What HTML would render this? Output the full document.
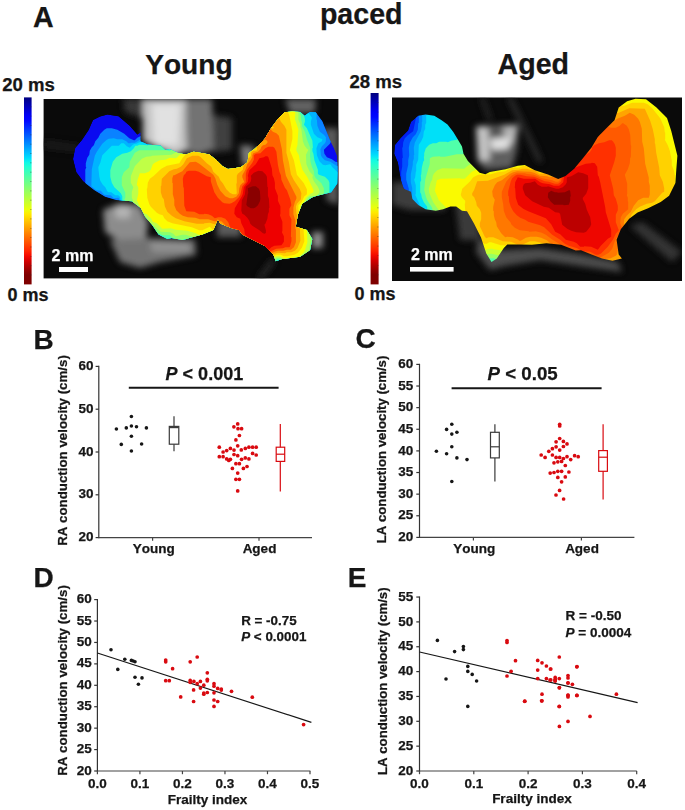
<!DOCTYPE html>
<html><head><meta charset="utf-8"><title>Figure</title>
<style>html,body{margin:0;padding:0;background:#fff;width:685px;height:810px;overflow:hidden}svg{display:block}text{stroke:currentColor;stroke-width:0.25px;font-kerning:none}</style>
</head><body>
<svg width="685" height="810" viewBox="0 0 685 810" font-family="'Liberation Sans', sans-serif" font-weight="bold">
<rect width="685" height="810" fill="#fff"/>
<text x="33" y="26.8" font-size="28.6" text-anchor="start" fill="#161616" color="#161616" >A</text>
<text x="319.9" y="23.6" font-size="28.6" text-anchor="start" fill="#161616" color="#161616" >paced</text>
<text x="145.2" y="74.4" font-size="28.1" text-anchor="start" fill="#161616" color="#161616" >Young</text>
<text x="497.6" y="74.4" font-size="28.6" text-anchor="start" fill="#161616" color="#161616" >Aged</text>
<text x="2.2" y="91" font-size="18.6" text-anchor="start" fill="#161616" color="#161616" >20 ms</text>
<text x="7.6" y="301.4" font-size="18" text-anchor="start" fill="#161616" color="#161616" >0 ms</text>
<text x="349.4" y="88" font-size="18.6" text-anchor="start" fill="#161616" color="#161616" >28 ms</text>
<text x="354.6" y="300.4" font-size="18" text-anchor="start" fill="#161616" color="#161616" >0 ms</text>
<linearGradient id="cb1" x1="0" y1="0" x2="0" y2="1"><stop offset="0.000" stop-color="#00007f"/><stop offset="0.025" stop-color="#00009e"/><stop offset="0.050" stop-color="#0000bc"/><stop offset="0.075" stop-color="#0000db"/><stop offset="0.100" stop-color="#0000fa"/><stop offset="0.125" stop-color="#0007ff"/><stop offset="0.150" stop-color="#0022ff"/><stop offset="0.175" stop-color="#003dff"/><stop offset="0.200" stop-color="#0058ff"/><stop offset="0.225" stop-color="#0073ff"/><stop offset="0.250" stop-color="#008eff"/><stop offset="0.275" stop-color="#00a9ff"/><stop offset="0.300" stop-color="#00c4ff"/><stop offset="0.325" stop-color="#00dffb"/><stop offset="0.350" stop-color="#11fae5"/><stop offset="0.375" stop-color="#27ffcf"/><stop offset="0.400" stop-color="#3cffb9"/><stop offset="0.425" stop-color="#52ffa4"/><stop offset="0.450" stop-color="#68ff8e"/><stop offset="0.475" stop-color="#7eff78"/><stop offset="0.500" stop-color="#94ff62"/><stop offset="0.525" stop-color="#a9ff4c"/><stop offset="0.550" stop-color="#bfff37"/><stop offset="0.575" stop-color="#d5ff21"/><stop offset="0.600" stop-color="#ebff0b"/><stop offset="0.625" stop-color="#ffe900"/><stop offset="0.650" stop-color="#ffd000"/><stop offset="0.675" stop-color="#ffb700"/><stop offset="0.700" stop-color="#ff9e00"/><stop offset="0.725" stop-color="#ff8500"/><stop offset="0.750" stop-color="#ff6c00"/><stop offset="0.775" stop-color="#ff5300"/><stop offset="0.800" stop-color="#ff3a00"/><stop offset="0.825" stop-color="#ff2100"/><stop offset="0.850" stop-color="#f20800"/><stop offset="0.875" stop-color="#d30000"/><stop offset="0.900" stop-color="#b40000"/><stop offset="0.925" stop-color="#960000"/><stop offset="0.950" stop-color="#7f0000"/><stop offset="0.975" stop-color="#7f0000"/><stop offset="1.000" stop-color="#7f0000"/></linearGradient><rect x="24" y="97.4" width="7.6" height="186.99999999999997" fill="url(#cb1)"/><line x1="30.0" y1="106.8" x2="31.6" y2="106.8" stroke="#333" stroke-width="0.6" opacity="0.6"/><line x1="30.0" y1="116.1" x2="31.6" y2="116.1" stroke="#333" stroke-width="0.6" opacity="0.6"/><line x1="30.0" y1="125.5" x2="31.6" y2="125.5" stroke="#333" stroke-width="0.6" opacity="0.6"/><line x1="30.0" y1="134.8" x2="31.6" y2="134.8" stroke="#333" stroke-width="0.6" opacity="0.6"/><line x1="30.0" y1="144.2" x2="31.6" y2="144.2" stroke="#333" stroke-width="0.6" opacity="0.6"/><line x1="30.0" y1="153.5" x2="31.6" y2="153.5" stroke="#333" stroke-width="0.6" opacity="0.6"/><line x1="30.0" y1="162.8" x2="31.6" y2="162.8" stroke="#333" stroke-width="0.6" opacity="0.6"/><line x1="30.0" y1="172.2" x2="31.6" y2="172.2" stroke="#333" stroke-width="0.6" opacity="0.6"/><line x1="30.0" y1="181.6" x2="31.6" y2="181.6" stroke="#333" stroke-width="0.6" opacity="0.6"/><line x1="30.0" y1="190.9" x2="31.6" y2="190.9" stroke="#333" stroke-width="0.6" opacity="0.6"/><line x1="30.0" y1="200.2" x2="31.6" y2="200.2" stroke="#333" stroke-width="0.6" opacity="0.6"/><line x1="30.0" y1="209.6" x2="31.6" y2="209.6" stroke="#333" stroke-width="0.6" opacity="0.6"/><line x1="30.0" y1="218.9" x2="31.6" y2="218.9" stroke="#333" stroke-width="0.6" opacity="0.6"/><line x1="30.0" y1="228.3" x2="31.6" y2="228.3" stroke="#333" stroke-width="0.6" opacity="0.6"/><line x1="30.0" y1="237.6" x2="31.6" y2="237.6" stroke="#333" stroke-width="0.6" opacity="0.6"/><line x1="30.0" y1="247.0" x2="31.6" y2="247.0" stroke="#333" stroke-width="0.6" opacity="0.6"/><line x1="30.0" y1="256.4" x2="31.6" y2="256.4" stroke="#333" stroke-width="0.6" opacity="0.6"/><line x1="30.0" y1="265.7" x2="31.6" y2="265.7" stroke="#333" stroke-width="0.6" opacity="0.6"/><line x1="30.0" y1="275.0" x2="31.6" y2="275.0" stroke="#333" stroke-width="0.6" opacity="0.6"/>
<linearGradient id="cb2" x1="0" y1="0" x2="0" y2="1"><stop offset="0.000" stop-color="#00007f"/><stop offset="0.025" stop-color="#00009e"/><stop offset="0.050" stop-color="#0000bc"/><stop offset="0.075" stop-color="#0000db"/><stop offset="0.100" stop-color="#0000fa"/><stop offset="0.125" stop-color="#0007ff"/><stop offset="0.150" stop-color="#0022ff"/><stop offset="0.175" stop-color="#003dff"/><stop offset="0.200" stop-color="#0058ff"/><stop offset="0.225" stop-color="#0073ff"/><stop offset="0.250" stop-color="#008eff"/><stop offset="0.275" stop-color="#00a9ff"/><stop offset="0.300" stop-color="#00c4ff"/><stop offset="0.325" stop-color="#00dffb"/><stop offset="0.350" stop-color="#11fae5"/><stop offset="0.375" stop-color="#27ffcf"/><stop offset="0.400" stop-color="#3cffb9"/><stop offset="0.425" stop-color="#52ffa4"/><stop offset="0.450" stop-color="#68ff8e"/><stop offset="0.475" stop-color="#7eff78"/><stop offset="0.500" stop-color="#94ff62"/><stop offset="0.525" stop-color="#a9ff4c"/><stop offset="0.550" stop-color="#bfff37"/><stop offset="0.575" stop-color="#d5ff21"/><stop offset="0.600" stop-color="#ebff0b"/><stop offset="0.625" stop-color="#ffe900"/><stop offset="0.650" stop-color="#ffd000"/><stop offset="0.675" stop-color="#ffb700"/><stop offset="0.700" stop-color="#ff9e00"/><stop offset="0.725" stop-color="#ff8500"/><stop offset="0.750" stop-color="#ff6c00"/><stop offset="0.775" stop-color="#ff5300"/><stop offset="0.800" stop-color="#ff3a00"/><stop offset="0.825" stop-color="#ff2100"/><stop offset="0.850" stop-color="#f20800"/><stop offset="0.875" stop-color="#d30000"/><stop offset="0.900" stop-color="#b40000"/><stop offset="0.925" stop-color="#960000"/><stop offset="0.950" stop-color="#7f0000"/><stop offset="0.975" stop-color="#7f0000"/><stop offset="1.000" stop-color="#7f0000"/></linearGradient><rect x="370.6" y="93" width="8" height="191.39999999999998" fill="url(#cb2)"/><line x1="377.0" y1="102.6" x2="378.6" y2="102.6" stroke="#333" stroke-width="0.6" opacity="0.6"/><line x1="377.0" y1="112.1" x2="378.6" y2="112.1" stroke="#333" stroke-width="0.6" opacity="0.6"/><line x1="377.0" y1="121.7" x2="378.6" y2="121.7" stroke="#333" stroke-width="0.6" opacity="0.6"/><line x1="377.0" y1="131.3" x2="378.6" y2="131.3" stroke="#333" stroke-width="0.6" opacity="0.6"/><line x1="377.0" y1="140.8" x2="378.6" y2="140.8" stroke="#333" stroke-width="0.6" opacity="0.6"/><line x1="377.0" y1="150.4" x2="378.6" y2="150.4" stroke="#333" stroke-width="0.6" opacity="0.6"/><line x1="377.0" y1="160.0" x2="378.6" y2="160.0" stroke="#333" stroke-width="0.6" opacity="0.6"/><line x1="377.0" y1="169.6" x2="378.6" y2="169.6" stroke="#333" stroke-width="0.6" opacity="0.6"/><line x1="377.0" y1="179.1" x2="378.6" y2="179.1" stroke="#333" stroke-width="0.6" opacity="0.6"/><line x1="377.0" y1="188.7" x2="378.6" y2="188.7" stroke="#333" stroke-width="0.6" opacity="0.6"/><line x1="377.0" y1="198.3" x2="378.6" y2="198.3" stroke="#333" stroke-width="0.6" opacity="0.6"/><line x1="377.0" y1="207.8" x2="378.6" y2="207.8" stroke="#333" stroke-width="0.6" opacity="0.6"/><line x1="377.0" y1="217.4" x2="378.6" y2="217.4" stroke="#333" stroke-width="0.6" opacity="0.6"/><line x1="377.0" y1="227.0" x2="378.6" y2="227.0" stroke="#333" stroke-width="0.6" opacity="0.6"/><line x1="377.0" y1="236.5" x2="378.6" y2="236.5" stroke="#333" stroke-width="0.6" opacity="0.6"/><line x1="377.0" y1="246.1" x2="378.6" y2="246.1" stroke="#333" stroke-width="0.6" opacity="0.6"/><line x1="377.0" y1="255.7" x2="378.6" y2="255.7" stroke="#333" stroke-width="0.6" opacity="0.6"/><line x1="377.0" y1="265.3" x2="378.6" y2="265.3" stroke="#333" stroke-width="0.6" opacity="0.6"/><line x1="377.0" y1="274.8" x2="378.6" y2="274.8" stroke="#333" stroke-width="0.6" opacity="0.6"/>
<rect x="43.6" y="99" width="294.79999999999995" height="179.39999999999998" fill="#0a0a0a"/>
<filter id="gy" x="-20%" y="-20%" width="140%" height="140%"><feGaussianBlur stdDeviation="3"/></filter><clipPath id="gyc"><rect x="43.6" y="99" width="294.79999999999995" height="179.39999999999998"/></clipPath><g clip-path="url(#gyc)"><g filter="url(#gy)"><path d="M143,99 186,99 187,150 175,156 160,149 143,141Z" fill="rgb(195,195,195)" opacity="1"/><path d="M152,104 180,104 178,146 154,144Z" fill="rgb(225,225,225)" opacity="1"/><path d="M186,99 212,99 214,150 198,155 187,152Z" fill="rgb(115,115,115)" opacity="1"/><path d="M212,115 232,118 232,150 214,152Z" fill="rgb(65,65,65)" opacity="1"/><path d="M123,99 143,99 143,118 125,112Z" fill="rgb(55,55,55)" opacity="1"/><path d="M240,145 254,146 254,166 242,166Z" fill="rgb(120,120,120)" opacity="1"/><path d="M103,210 120,203 140,205 148,222 146,240 125,245 105,232Z" fill="rgb(140,140,140)" opacity="1"/><path d="M115,207 130,206 130,218 116,218Z" fill="rgb(180,180,180)" opacity="1"/><path d="M110,240 150,238 195,240 196,255 160,262 140,268 120,262Z" fill="rgb(115,115,115)" opacity="1"/><path d="M150,242 190,243 190,252 152,252Z" fill="rgb(145,145,145)" opacity="1"/><path d="M217,219 241,222 241,237 217,237Z" fill="rgb(90,90,90)" opacity="1"/><path d="M285,99 316,99 315,113 290,113Z" fill="rgb(100,100,100)" opacity="1"/><path d="M322,128 338.4,128 338.4,205 326,200 330,160Z" fill="rgb(90,90,90)" opacity="1"/><path d="M312,232 323,232 323,248 312,248Z" fill="rgb(140,140,140)" opacity="1"/><path d="M257,279 262,279 276,260 271,260Z" fill="rgb(50,50,50)" opacity="1"/><path d="M43.6,140 80,145 78,152 43.6,148Z" fill="rgb(35,35,35)" opacity="0.8"/></g></g>
<clipPath id="clipY"><path d="M93.0,120.1 100.0,116.5 107.4,114.6 118.6,116.3 129.7,125.7 137.4,134.6 140.8,132.3 140.3,141.2 147.4,144.6 160.8,145.7 165.2,150.1 170.0,149.2 177.9,153.1 185.8,154.5 193.7,151.8 201.5,153.1 209.4,154.5 216.0,159.7 222.6,166.3 227.8,168.9 234.4,168.3 241.0,166.9 247.5,162.3 248.8,153.1 254.1,149.2 260.0,144.0 264.6,139.0 271.2,127.9 277.9,119.0 284.6,112.3 292.0,111.5 300.1,111.9 304.6,115.7 310.0,112.0 315.7,112.3 322.3,121.2 326.8,132.3 330.0,140.0 334.0,148.0 337.2,156.0 337.6,170.0 337.2,183.4 331.2,192.3 320.0,195.0 313.4,196.8 302.3,203.4 297.9,214.6 295.7,226.8 306.8,230.1 312.3,239.0 310.1,250.1 300.1,256.8 282.3,259.0 275.7,261.2 273.4,254.6 264.6,245.7 251.2,239.0 242.3,234.6 239.0,230.1 231.2,227.9 220.1,223.4 217.9,219.0 213.4,230.1 202.3,234.6 189.4,238.1 183.0,240.1 171.4,238.1 167.4,239.0 158.6,234.6 151.9,224.6 145.2,216.8 140.8,207.9 131.9,201.2 116.3,200.1 105.2,196.8 94.1,190.1 83.0,181.2 76.3,172.3 73.0,159.0 75.2,147.9 81.9,140.1 88.6,130.1Z"/></clipPath>
<g clip-path="url(#clipY)">
<path d="M93.0,120.1 100.0,116.5 107.4,114.6 118.6,116.3 129.7,125.7 137.4,134.6 140.8,132.3 140.3,141.2 147.4,144.6 160.8,145.7 165.2,150.1 170.0,149.2 177.9,153.1 185.8,154.5 193.7,151.8 201.5,153.1 209.4,154.5 216.0,159.7 222.6,166.3 227.8,168.9 234.4,168.3 241.0,166.9 247.5,162.3 248.8,153.1 254.1,149.2 260.0,144.0 264.6,139.0 271.2,127.9 277.9,119.0 284.6,112.3 292.0,111.5 300.1,111.9 304.6,115.7 310.0,112.0 315.7,112.3 322.3,121.2 326.8,132.3 330.0,140.0 334.0,148.0 337.2,156.0 337.6,170.0 337.2,183.4 331.2,192.3 320.0,195.0 313.4,196.8 302.3,203.4 297.9,214.6 295.7,226.8 306.8,230.1 312.3,239.0 310.1,250.1 300.1,256.8 282.3,259.0 275.7,261.2 273.4,254.6 264.6,245.7 251.2,239.0 242.3,234.6 239.0,230.1 231.2,227.9 220.1,223.4 217.9,219.0 213.4,230.1 202.3,234.6 189.4,238.1 183.0,240.1 171.4,238.1 167.4,239.0 158.6,234.6 151.9,224.6 145.2,216.8 140.8,207.9 131.9,201.2 116.3,200.1 105.2,196.8 94.1,190.1 83.0,181.2 76.3,172.3 73.0,159.0 75.2,147.9 81.9,140.1 88.6,130.1Z" fill="#0a0af0"/>
<path d="M338.4,162.2 335.4,161.8 331.9,159.2 326.9,157.2 324.4,153.8 323.9,149.8 329.9,143.8 331.4,140.8 331.4,138.2 323.4,118.8 317.4,110.8 308.4,110.8 305.9,112.8 304.9,112.8 301.9,110.2 287.4,110.2 286.9,110.8 283.4,110.8 275.4,118.8 269.4,126.8 263.9,137.2 255.8,145.2 247.3,151.8 246.3,158.8 245.3,161.2 239.3,165.2 229.3,167.2 224.3,164.8 216.3,157.2 209.3,152.8 204.3,152.2 196.3,150.2 191.8,150.2 186.3,152.8 180.8,152.2 171.8,147.8 167.3,147.8 166.3,148.2 162.3,144.2 148.8,143.2 141.8,139.2 142.3,135.2 137.3,137.8 134.8,140.2 133.8,140.2 129.3,138.2 124.3,133.8 117.3,129.8 111.8,128.2 106.8,128.2 104.3,129.8 100.3,133.8 98.3,137.8 95.3,141.2 93.8,145.2 91.8,147.2 89.8,150.8 89.3,154.8 87.3,157.8 85.8,163.2 85.8,166.8 86.3,167.2 85.3,169.8 85.3,186.2 92.8,192.2 97.3,193.8 99.3,193.8 102.8,197.8 104.8,198.8 108.8,199.2 109.8,200.2 114.3,201.8 126.3,202.2 131.3,203.2 139.3,209.2 143.3,217.8 149.3,224.8 156.8,235.8 165.8,240.8 173.8,240.2 180.3,241.8 184.8,241.8 191.8,239.2 202.8,236.8 214.8,231.8 216.8,226.2 218.3,224.2 229.3,229.2 237.3,231.8 240.8,236.2 263.4,247.2 271.9,256.2 274.4,262.8 277.9,262.8 285.9,260.2 301.9,258.2 311.9,251.8 313.9,241.8 313.9,237.8 308.4,228.8 297.9,225.2 299.4,215.8 304.4,204.2 314.9,198.2 331.9,194.2 333.4,193.2 338.4,185.8Z" fill="#0a82ff" fill-rule="evenodd"/>
<path d="M338.4,166.2 336.4,165.8 330.4,161.8 324.9,160.2 321.9,157.2 320.9,155.2 320.4,149.2 321.9,146.2 324.9,143.2 325.9,141.2 325.9,137.2 323.9,134.8 319.9,131.8 317.4,125.8 316.9,119.8 316.4,119.2 316.9,111.2 317.4,110.8 308.4,110.8 305.9,112.8 304.9,112.8 301.9,110.2 287.4,110.2 286.9,110.8 283.4,110.8 275.4,118.8 269.4,126.8 263.9,137.2 255.8,145.2 247.3,151.8 245.8,160.8 240.3,164.8 233.8,166.8 229.8,166.8 229.3,167.2 224.3,164.8 216.3,157.2 209.3,152.8 204.3,152.2 196.3,150.2 191.8,150.2 186.3,152.8 180.8,152.2 171.8,147.8 167.3,147.8 166.3,148.2 162.3,144.2 148.8,143.2 142.8,140.2 141.8,138.8 134.8,142.8 130.8,142.8 130.3,143.2 128.3,143.2 126.3,141.2 122.3,139.2 117.3,139.2 113.8,138.2 108.8,138.8 106.8,139.8 102.3,143.8 96.8,151.8 94.8,155.8 91.8,169.2 91.3,186.2 96.3,190.2 100.8,190.8 104.3,194.8 110.8,195.2 113.8,198.2 118.3,197.8 119.3,198.8 119.3,200.2 118.3,201.8 118.8,202.2 130.3,202.8 139.3,209.2 143.3,217.8 149.3,224.8 156.8,235.8 165.8,240.8 173.8,240.2 180.3,241.8 184.8,241.8 191.8,239.2 202.8,236.8 214.8,231.8 216.8,226.2 218.3,224.2 229.3,229.2 237.3,231.8 240.8,236.2 263.4,247.2 271.9,256.2 274.4,262.8 277.9,262.8 285.9,260.2 301.9,258.2 311.9,251.8 313.9,241.8 313.9,237.8 308.4,228.8 297.9,225.2 299.4,215.8 304.4,204.2 314.9,198.2 331.9,194.2 333.4,193.2 338.4,185.8Z" fill="#00b4ff" fill-rule="evenodd"/>
<path d="M338.4,172.8 331.9,166.8 330.9,164.8 329.9,164.2 325.4,165.2 322.9,164.8 319.4,161.2 316.9,155.2 316.4,148.2 318.4,143.2 321.9,141.2 322.4,139.2 317.4,137.2 313.9,133.8 310.9,124.8 310.9,121.2 311.9,117.8 308.9,113.2 308.9,110.8 307.4,111.2 305.9,112.8 304.9,112.8 301.9,110.2 283.4,110.8 275.4,118.8 269.4,126.8 263.9,137.2 255.8,145.2 247.3,151.8 245.8,160.8 240.3,164.8 233.8,166.8 229.8,166.8 229.3,167.2 224.3,164.8 216.3,157.2 209.3,152.8 204.3,152.2 196.3,150.2 191.8,150.2 186.3,152.8 180.8,152.2 171.8,147.8 167.3,147.8 166.3,148.2 162.3,144.2 148.8,143.2 145.3,141.2 139.3,142.2 136.3,143.8 134.8,143.8 132.8,144.8 129.8,147.8 126.8,146.2 123.8,143.2 121.3,143.2 118.8,145.8 111.8,145.8 102.3,155.2 100.3,162.8 98.3,167.2 99.3,176.8 100.3,180.8 102.8,184.8 105.3,187.2 107.3,191.2 108.3,192.2 111.3,192.2 115.3,195.2 118.3,195.2 120.3,197.2 120.8,202.2 130.3,202.8 138.8,208.8 143.3,217.8 149.3,224.8 157.8,236.8 165.8,240.8 173.8,240.2 180.3,241.8 184.8,241.8 191.8,239.2 202.8,236.8 214.8,231.8 216.8,226.2 218.3,224.2 229.3,229.2 237.3,231.8 240.8,236.2 263.4,247.2 271.9,256.2 274.4,262.8 277.9,262.8 285.9,260.2 301.9,258.2 311.9,251.8 313.9,241.8 313.9,237.8 308.4,228.8 297.9,225.2 299.4,215.8 304.4,204.2 314.9,198.2 331.9,194.2 333.4,193.2 338.4,185.8Z" fill="#00e0f8" fill-rule="evenodd"/>
<path d="M330.4,194.2 329.4,192.2 329.4,182.8 328.4,180.2 324.9,176.8 318.9,174.8 317.9,173.8 317.9,169.8 314.4,160.2 313.4,153.8 312.4,151.2 312.4,148.2 312.9,147.8 312.4,140.8 306.9,128.2 303.9,124.8 304.9,121.8 304.9,118.8 303.9,115.2 301.9,112.2 302.4,110.8 301.9,110.2 283.4,110.8 275.4,118.8 269.4,126.8 263.9,137.2 255.8,145.2 247.3,151.8 245.8,160.8 240.3,164.8 233.8,166.8 229.8,166.8 229.3,167.2 224.3,164.8 216.3,157.2 209.3,152.8 204.3,152.2 196.3,150.2 191.8,150.2 186.3,152.8 180.8,152.2 171.8,147.8 167.3,147.8 166.3,148.2 162.3,144.2 157.8,143.8 157.3,144.2 148.3,144.8 147.8,145.2 139.3,144.8 137.3,145.8 135.3,145.8 133.8,148.2 130.8,151.2 127.3,152.8 122.3,153.8 116.3,157.2 112.8,161.8 110.3,170.2 110.3,176.8 111.8,182.8 114.3,187.2 120.8,193.2 122.3,196.2 122.3,201.8 122.8,202.2 130.3,202.8 138.8,208.8 143.3,217.8 149.3,224.8 157.8,236.8 162.8,239.2 167.8,239.2 168.8,238.8 170.3,240.2 173.8,240.2 180.3,241.8 184.8,241.8 191.8,239.2 202.8,236.8 214.8,231.8 216.8,226.2 218.3,224.2 229.3,229.2 237.3,231.8 240.8,236.2 263.4,247.2 271.9,256.2 274.4,262.8 277.9,262.8 285.9,260.2 301.9,258.2 311.9,251.8 313.9,241.8 313.9,237.8 308.4,228.8 297.9,225.2 299.4,215.8 304.4,204.2 314.9,198.2Z" fill="#50ffaa" fill-rule="evenodd"/>
<path d="M323.9,188.2 321.4,183.2 315.9,178.2 314.4,175.8 313.9,171.2 311.9,166.8 310.4,161.2 310.4,157.8 309.9,157.2 310.4,148.2 306.9,139.2 304.9,131.8 301.9,125.8 301.9,121.8 301.4,121.2 300.9,115.8 299.9,113.2 299.9,110.2 283.4,110.8 275.4,118.8 269.4,126.8 263.9,137.2 255.8,145.2 247.3,151.8 245.8,160.8 239.3,165.2 229.3,167.2 224.3,164.8 216.3,157.2 210.8,153.2 196.3,150.2 191.8,150.2 186.3,152.8 180.8,152.2 172.8,148.2 169.8,151.2 165.8,150.2 139.3,150.2 134.8,152.8 129.8,161.8 129.3,167.2 123.8,172.2 121.8,177.2 121.8,185.2 125.3,192.8 125.3,197.8 124.3,199.8 126.8,202.8 130.3,202.8 138.8,208.8 144.8,219.8 150.8,227.2 157.8,233.2 163.3,235.2 169.8,235.2 174.3,239.2 176.3,240.2 181.8,240.2 183.8,239.2 185.3,239.2 187.3,240.8 188.3,240.8 191.8,239.2 204.3,236.2 214.8,231.8 216.8,226.2 218.3,224.2 229.3,229.2 237.3,231.8 240.8,236.2 263.4,247.2 271.9,256.2 274.4,262.8 277.4,258.8 279.4,259.2 281.4,261.8 285.9,260.2 301.9,258.2 311.9,251.8 313.9,241.8 313.9,237.8 308.4,228.8 297.9,225.2 298.9,217.8 303.9,204.8 308.9,201.8 308.9,198.8 309.9,197.8 314.4,198.8 317.4,197.8 319.4,195.8 322.4,196.2 323.9,192.8Z" fill="#8cff6e" fill-rule="evenodd"/>
<path d="M297.9,110.2 283.4,110.8 275.4,118.8 269.4,126.8 263.9,137.2 255.8,145.2 247.3,151.8 245.8,160.8 240.3,164.8 233.8,166.8 229.8,166.8 229.3,167.2 224.3,164.8 216.3,157.2 210.8,153.2 196.3,150.2 191.8,150.2 186.3,152.8 180.8,152.2 177.3,150.8 175.3,152.8 171.3,154.8 151.8,155.8 151.3,156.2 146.3,156.8 141.8,158.8 134.8,166.2 130.8,176.2 130.8,182.8 133.3,187.2 131.8,191.8 131.8,197.8 132.8,199.8 133.3,204.8 139.3,209.2 143.3,217.2 146.3,218.8 151.8,224.8 153.8,225.8 160.8,231.8 170.3,232.2 173.3,233.8 175.8,236.2 182.3,234.8 185.8,234.8 194.8,237.8 198.8,237.8 204.3,236.2 214.8,231.8 216.8,226.2 218.3,224.2 229.3,229.2 237.3,231.8 240.8,236.2 263.4,247.2 271.9,256.2 273.4,260.8 276.4,257.8 279.9,257.8 283.9,260.8 299.9,258.8 302.9,257.8 307.4,254.8 309.4,250.2 309.9,244.2 310.4,243.8 310.4,233.2 310.9,232.8 308.4,228.8 297.9,225.2 298.9,217.8 303.9,204.8 305.9,203.8 305.9,202.2 307.9,197.8 309.9,196.2 315.9,196.2 319.4,192.8 319.4,190.2 317.9,186.8 313.9,181.2 312.4,177.8 312.9,175.2 309.4,171.2 306.4,164.2 305.9,154.8 308.4,149.8 306.9,148.8 304.4,145.2 302.9,141.2 301.4,129.8 300.4,127.2 300.4,124.2 298.4,119.8 298.4,111.2Z" fill="#c0ff46" fill-rule="evenodd"/>
<path d="M295.4,111.8 293.9,110.2 283.4,110.8 275.4,118.8 269.4,126.8 263.9,137.2 255.8,145.2 247.3,151.8 245.8,160.8 239.3,165.2 229.3,167.2 224.3,164.8 216.3,157.2 210.8,153.2 196.3,150.2 191.8,150.2 186.3,152.8 182.3,152.2 176.8,157.8 175.3,158.2 169.8,157.8 165.3,159.8 159.8,160.2 154.8,162.8 152.8,164.2 150.8,169.8 148.8,171.8 144.8,173.2 139.8,173.2 137.8,179.2 136.8,184.8 138.3,187.2 138.3,193.8 136.8,200.2 142.8,212.8 146.8,214.2 151.3,218.8 152.8,221.8 156.8,223.2 162.3,228.8 170.8,228.2 175.8,229.8 187.3,230.8 195.8,233.2 200.3,235.8 204.3,236.2 214.8,231.8 216.8,226.2 218.3,224.2 229.3,229.2 237.3,231.8 240.8,236.2 263.4,247.2 271.9,256.2 272.9,258.2 276.4,256.2 279.9,256.2 284.9,258.8 293.9,258.8 298.9,256.8 303.4,252.8 304.9,250.2 307.4,242.2 306.9,228.2 297.9,225.2 299.4,215.8 301.9,210.2 300.4,206.2 303.9,202.2 305.9,197.8 310.4,193.8 313.4,192.2 313.4,189.8 307.4,177.2 302.4,169.8 299.9,161.2 298.9,155.2 296.4,150.8 296.4,148.2 297.4,145.2 298.4,129.2 294.9,119.2Z" fill="#fcfc00" fill-rule="evenodd"/>
<path d="M287.9,111.8 286.9,110.8 283.4,110.8 275.4,118.8 269.4,126.8 263.9,137.2 255.8,145.2 247.3,151.8 245.8,160.8 239.3,165.2 229.3,167.2 224.3,164.8 216.3,157.2 210.8,153.2 196.3,150.2 193.3,150.2 185.8,154.2 182.3,158.2 179.3,163.2 166.8,165.8 161.3,168.8 153.3,176.2 149.8,178.8 147.8,182.8 147.3,188.2 146.8,188.8 147.3,197.8 149.3,204.2 150.8,206.8 156.8,212.8 159.3,214.2 162.8,215.2 164.3,218.2 167.3,221.2 172.3,223.2 191.8,227.2 199.3,230.2 202.3,230.2 209.8,226.8 214.8,231.8 216.8,226.2 218.3,224.2 229.3,229.2 236.3,231.2 238.3,232.8 240.8,236.2 263.4,247.2 271.9,256.8 272.9,256.8 276.4,254.8 280.9,254.8 283.9,256.2 286.9,256.2 294.4,254.8 297.9,252.8 301.9,247.8 304.4,241.2 303.4,227.2 297.9,225.2 298.9,217.8 299.9,215.2 299.9,213.2 298.4,209.8 298.4,205.2 301.4,202.2 304.4,196.2 306.4,194.8 306.9,193.8 306.9,189.2 303.9,183.2 296.9,174.8 293.9,160.2 289.9,150.2 292.4,138.8 292.4,131.2 289.4,115.8Z" fill="#ffd200" fill-rule="evenodd"/>
<path d="M278.9,117.2 277.9,116.2 275.4,118.8 269.4,126.8 263.9,137.2 255.3,145.2 257.4,148.8 256.4,150.8 253.3,150.8 251.3,152.2 250.8,156.2 245.3,161.2 243.8,164.2 242.8,169.8 237.8,173.8 236.8,175.8 236.8,183.2 236.3,183.8 236.8,193.2 235.8,194.2 232.8,194.2 229.8,192.8 226.3,189.2 222.8,183.2 220.3,180.2 218.8,176.8 213.3,171.8 211.3,166.8 206.8,163.2 200.3,156.8 198.3,155.8 192.3,155.8 186.8,158.2 183.3,164.2 180.8,166.8 176.8,168.8 173.8,169.2 169.3,171.2 161.8,178.8 161.3,185.8 160.8,186.2 160.8,192.2 162.3,197.2 163.8,199.2 164.8,206.2 167.3,211.8 171.8,215.8 175.8,218.2 184.3,221.2 196.8,223.8 203.8,223.8 204.3,223.2 209.8,222.8 216.3,224.8 218.3,224.2 229.3,229.2 236.3,231.2 238.3,232.8 240.8,236.2 263.4,247.2 271.4,255.8 274.4,253.8 277.9,252.8 284.9,253.2 286.9,252.2 291.4,252.2 294.9,250.8 297.4,248.2 300.4,240.8 299.9,228.8 299.4,228.2 299.4,225.8 297.9,225.2 298.4,219.2 296.4,213.2 295.9,206.8 296.9,203.8 300.9,199.2 301.4,193.2 299.9,189.2 293.9,180.2 290.9,174.2 288.9,162.2 286.4,152.8 286.4,129.8 284.4,125.8 280.9,121.8ZM272.4,126.8 273.9,127.2 272.9,128.8 271.4,127.8Z" fill="#ffa000" fill-rule="evenodd"/>
<path d="M269.9,126.2 263.9,137.2 258.9,142.2 261.4,142.8 264.4,139.8 265.9,139.8 267.4,141.2 267.4,142.8 265.4,144.8 262.9,145.2 261.4,146.8 260.4,149.2 257.9,151.8 253.3,153.2 252.3,155.2 252.3,157.2 250.3,160.8 247.3,164.2 245.3,169.8 242.3,175.2 242.3,177.2 244.3,182.2 242.8,182.8 240.3,185.2 239.3,188.2 238.8,193.2 236.3,196.8 232.8,198.2 229.8,198.2 225.3,196.2 220.3,190.8 217.3,184.8 215.3,178.2 213.3,174.8 199.3,163.8 195.8,161.8 189.8,162.2 182.3,171.2 174.3,175.2 173.3,175.2 172.3,178.2 172.3,182.8 172.8,183.2 172.8,194.2 174.3,199.8 174.3,205.2 176.3,210.2 179.8,213.8 182.8,215.8 187.8,217.2 195.3,217.8 199.8,219.2 208.3,219.2 214.3,221.2 221.3,221.2 224.3,224.2 225.8,227.8 237.3,231.8 240.8,236.2 263.4,247.2 270.4,254.2 274.4,251.8 277.9,250.8 283.4,250.8 286.9,249.8 290.9,249.8 293.9,247.2 295.9,242.2 295.9,229.2 295.4,228.8 295.4,220.8 293.4,214.2 293.4,207.8 294.9,201.8 296.4,198.8 296.4,196.8 285.9,175.8 282.9,160.2 281.9,149.2 278.9,135.8 276.4,133.2 272.9,131.8 270.9,129.8 270.4,126.2Z" fill="#ff6400" fill-rule="evenodd"/>
<path d="M186.3,171.8 185.8,173.2 183.8,175.2 182.8,178.8 183.3,187.2 183.8,187.8 184.3,205.8 186.3,211.2 194.3,211.8 199.3,214.2 203.8,214.2 204.3,213.8 208.3,214.2 211.8,215.8 214.8,218.2 218.3,217.2 221.3,217.2 225.3,218.8 228.3,222.2 230.3,227.8 238.3,231.2 239.3,232.2 239.8,235.2 240.8,236.2 263.4,247.2 268.9,253.2 271.9,250.8 276.4,248.8 282.9,248.2 285.4,247.2 289.4,247.2 289.9,246.8 291.4,241.2 291.4,237.2 290.9,236.8 291.4,219.2 289.4,215.2 289.4,208.8 291.4,205.2 290.4,199.8 286.9,190.2 284.9,187.8 281.4,179.8 280.9,175.2 279.4,171.8 277.9,164.8 276.4,151.8 274.4,147.8 272.9,146.8 268.4,146.8 265.4,148.2 260.4,153.2 255.8,153.8 253.8,155.2 253.8,159.8 252.3,162.8 246.8,170.2 245.8,173.8 245.8,182.2 242.3,186.2 240.3,194.8 238.8,197.2 234.8,201.2 231.3,203.2 229.3,203.8 224.3,203.2 222.3,202.2 217.8,197.8 214.3,192.2 210.8,181.2 210.8,177.2 206.8,176.2 198.8,171.8 195.3,170.8 188.8,170.8ZM265.9,133.2 263.9,137.2 261.4,139.8 261.9,140.2 263.4,139.8Z" fill="#ff2a00" fill-rule="evenodd"/>
<path d="M265.4,156.2 263.9,157.2 259.4,158.2 255.8,164.2 249.3,170.2 247.8,175.8 248.3,177.8 247.8,181.8 243.8,187.2 242.8,193.8 241.8,196.2 234.8,208.2 234.3,213.8 236.8,217.2 240.3,218.8 241.3,223.2 244.3,229.2 244.8,234.2 251.8,241.8 263.4,247.2 266.9,250.8 267.9,250.8 271.4,247.2 274.4,245.8 281.4,245.2 283.9,241.8 283.9,236.2 281.9,232.2 282.4,230.8 282.4,221.8 279.9,215.2 280.4,213.8 280.4,206.2 277.9,200.8 277.9,195.8 274.9,188.2 274.9,182.8 273.9,178.2 272.4,175.2 271.9,168.8 268.4,157.2 267.4,156.2Z" fill="#ee0000" fill-rule="evenodd"/>
<path d="M258.4,170.8 253.8,172.8 250.8,175.8 251.3,178.2 250.8,181.2 249.3,183.8 245.8,186.8 244.8,194.8 241.8,200.2 241.3,210.8 242.3,213.8 244.3,214.8 247.3,217.8 249.3,220.8 250.3,223.8 252.3,225.8 259.4,230.2 262.9,233.2 264.9,233.8 265.9,232.8 265.9,230.2 264.4,224.8 265.4,223.8 267.4,218.8 267.9,214.2 268.9,211.8 268.9,208.2 269.4,207.8 268.9,198.8 267.9,195.8 267.9,187.2 267.4,186.8 266.9,176.8 265.9,174.8 262.4,171.2Z" fill="#b80000" fill-rule="evenodd"/>
<path d="M255.8,186.2 252.8,186.2 247.8,188.2 248.3,193.2 247.8,193.8 246.3,204.8 247.3,206.2 250.8,208.2 253.8,208.2 255.8,207.2 257.9,205.2 259.9,201.2 260.4,198.8 259.9,191.2 258.9,188.8Z" fill="#8a0000" fill-rule="evenodd"/>
</g>
<text x="51.6" y="261" font-size="16" text-anchor="start" fill="#fff" color="#fff" >2 mm</text>
<rect x="59" y="267" width="29" height="5" fill="#fff"/>
<rect x="392" y="97.5" width="290" height="183.5" fill="#0a0a0a"/>
<filter id="ga" x="-20%" y="-20%" width="140%" height="140%"><feGaussianBlur stdDeviation="3"/></filter><clipPath id="gac"><rect x="392" y="97.5" width="290" height="183.5"/></clipPath><g clip-path="url(#gac)"><g filter="url(#ga)"><path d="M476,126 518,124 517,150 512,168 485,170 477,160Z" fill="rgb(95,95,95)" opacity="1"/><path d="M476,127 488,127 490,160 479,161Z" fill="rgb(195,195,195)" opacity="1"/><path d="M503,126 518,126 514,142 506,148Z" fill="rgb(180,180,180)" opacity="1"/><path d="M490,139 510,137 508,149 492,150Z" fill="rgb(225,225,225)" opacity="1"/><path d="M489,128 501,128 500,137 490,137Z" fill="rgb(85,85,85)" opacity="1"/><path d="M480,97.5 484,97.5 492,120 488,120Z" fill="rgb(55,55,55)" opacity="0.8"/><path d="M392,182 410,182 445,195 445,210 410,210 392,205Z" fill="rgb(75,75,75)" opacity="0.8"/><path d="M478,238 500,250 540,248 580,254 618,262 622,272 580,266 540,260 505,266 490,270 476,252Z" fill="rgb(85,85,85)" opacity="0.9"/><path d="M630,226 642,222 682,252 672,262Z" fill="rgb(70,70,70)" opacity="0.7"/><path d="M507,97.5 512,97.5 543,162 538,162Z" fill="rgb(60,60,60)" opacity="0.8"/><path d="M455,200 480,200 480,240 460,240Z" fill="rgb(80,80,80)" opacity="0.7"/></g></g>
<clipPath id="clipA"><path d="M418.3,115.8 425.6,114.4 434.3,115.8 441.6,120.2 447.5,124.6 453.3,131.9 457.7,139.2 462.0,146.5 463.5,153.8 467.9,161.1 473.8,166.9 479.6,172.8 485.4,174.2 489.8,171.9 505.5,169.3 517.8,165.8 524.8,164.9 534.8,170.2 548.0,174.6 558.2,179.0 565.5,176.1 574.2,168.8 583.1,157.9 591.5,147.4 597.8,136.9 606.1,128.6 614.5,120.2 618.7,107.6 627.1,101.3 635.5,98.8 646.0,99.2 656.5,107.6 667.0,118.1 671.2,130.7 674.3,143.2 677.4,155.8 676.4,168.4 675.4,183.1 669.1,195.7 660.7,202.0 648.1,208.3 637.6,212.4 629.2,218.7 620.8,229.2 616.6,239.7 618.7,254.4 621.9,258.6 612.4,260.7 602.0,258.6 591.5,254.4 581.0,250.2 575.7,250.5 561.1,244.7 546.5,243.2 531.9,244.7 519.6,244.6 507.3,244.6 503.8,248.1 496.8,258.6 491.5,262.1 486.3,253.4 481.0,237.6 474.0,223.6 467.0,211.3 462.0,210.7 456.2,206.4 450.4,206.4 443.1,209.3 435.8,210.7 425.6,209.3 418.3,204.9 412.4,199.0 411.0,191.8 403.7,188.8 400.8,180.1 399.3,171.3 397.8,162.6 394.2,153.8 394.9,145.0 400.8,137.7 408.0,130.4 411.0,121.7Z"/></clipPath>
<g clip-path="url(#clipA)">
<path d="M418.3,115.8 425.6,114.4 434.3,115.8 441.6,120.2 447.5,124.6 453.3,131.9 457.7,139.2 462.0,146.5 463.5,153.8 467.9,161.1 473.8,166.9 479.6,172.8 485.4,174.2 489.8,171.9 505.5,169.3 517.8,165.8 524.8,164.9 534.8,170.2 548.0,174.6 558.2,179.0 565.5,176.1 574.2,168.8 583.1,157.9 591.5,147.4 597.8,136.9 606.1,128.6 614.5,120.2 618.7,107.6 627.1,101.3 635.5,98.8 646.0,99.2 656.5,107.6 667.0,118.1 671.2,130.7 674.3,143.2 677.4,155.8 676.4,168.4 675.4,183.1 669.1,195.7 660.7,202.0 648.1,208.3 637.6,212.4 629.2,218.7 620.8,229.2 616.6,239.7 618.7,254.4 621.9,258.6 612.4,260.7 602.0,258.6 591.5,254.4 581.0,250.2 575.7,250.5 561.1,244.7 546.5,243.2 531.9,244.7 519.6,244.6 507.3,244.6 503.8,248.1 496.8,258.6 491.5,262.1 486.3,253.4 481.0,237.6 474.0,223.6 467.0,211.3 462.0,210.7 456.2,206.4 450.4,206.4 443.1,209.3 435.8,210.7 425.6,209.3 418.3,204.9 412.4,199.0 411.0,191.8 403.7,188.8 400.8,180.1 399.3,171.3 397.8,162.6 394.2,153.8 394.9,145.0 400.8,137.7 408.0,130.4 411.0,121.7Z" fill="#001ef0"/>
<path d="M678.8,153.2 675.8,142.8 675.8,140.8 672.8,128.8 668.8,116.8 657.2,105.2 647.8,97.8 631.8,97.8 625.8,99.8 618.2,105.2 616.8,107.2 613.2,118.8 595.8,135.8 590.8,145.2 576.2,163.2 570.8,169.2 564.2,174.8 558.2,177.2 550.2,173.2 537.2,169.2 526.2,163.2 518.2,163.8 504.8,167.8 488.2,170.2 484.8,172.2 482.2,171.8 468.8,159.2 465.2,152.2 464.2,146.8 462.8,143.2 455.2,130.8 450.2,124.2 444.2,119.2 435.8,114.2 428.2,112.8 423.2,112.8 416.8,114.2 415.2,115.8 415.8,118.8 413.2,131.2 407.8,135.2 404.8,138.2 403.2,142.2 402.8,147.2 402.2,147.8 402.8,157.8 402.2,158.2 402.2,166.8 401.2,171.8 401.2,180.2 403.2,186.8 404.8,189.2 404.2,191.2 407.8,192.2 409.8,193.8 410.8,200.8 417.2,206.8 422.2,209.8 426.2,211.2 429.2,211.2 432.8,212.2 438.2,212.2 445.2,210.8 451.2,207.8 454.8,207.8 460.8,212.2 465.8,212.8 470.8,221.2 480.2,240.2 484.2,253.8 490.2,263.8 493.2,263.8 497.8,260.8 504.8,250.2 508.8,246.2 535.8,246.2 536.2,245.8 540.8,245.8 541.2,245.2 545.8,245.2 546.2,244.8 560.2,246.2 573.8,252.2 579.8,252.2 580.2,251.8 581.8,252.8 590.8,255.8 600.2,260.2 609.8,262.2 614.8,262.2 623.2,260.2 623.2,257.2 620.8,253.8 619.8,250.8 618.8,239.8 622.2,230.8 629.8,221.2 639.2,213.8 650.2,209.8 662.2,203.8 670.8,197.2 676.8,185.2 677.8,166.8 678.2,166.2 678.2,160.8 678.8,160.2Z" fill="#0050ff" fill-rule="evenodd"/>
<path d="M678.8,153.2 675.8,142.8 675.8,140.8 672.8,128.8 668.8,116.8 657.2,105.2 647.8,97.8 631.8,97.8 625.8,99.8 618.2,105.2 616.8,107.2 613.2,118.8 595.8,135.8 590.8,145.2 576.2,163.2 570.8,169.2 564.2,174.8 558.2,177.2 550.2,173.2 537.2,169.2 526.2,163.2 518.2,163.8 504.8,167.8 488.2,170.2 484.8,172.2 482.2,171.8 468.8,159.2 465.2,152.2 464.2,146.8 462.8,143.2 455.2,130.8 450.2,124.2 444.2,119.2 435.8,114.2 428.2,112.8 423.2,112.8 418.8,113.8 418.8,122.8 418.2,123.2 417.8,129.8 415.8,134.2 412.8,137.2 409.8,142.8 408.8,147.8 409.2,155.2 408.2,160.2 408.2,164.8 406.2,173.8 406.2,179.8 408.8,188.8 408.8,192.8 410.2,195.2 410.8,200.8 417.2,206.8 422.2,209.8 426.2,211.2 429.2,211.2 432.8,212.2 438.2,212.2 445.2,210.8 451.2,207.8 454.8,207.8 460.8,212.2 465.8,212.8 470.8,221.2 480.2,240.2 484.2,253.8 490.2,263.8 493.2,263.8 497.8,260.8 504.8,250.2 508.8,246.2 535.8,246.2 536.2,245.8 540.8,245.8 541.2,245.2 545.8,245.2 546.2,244.8 560.2,246.2 573.8,252.2 579.8,252.2 580.2,251.8 581.8,252.8 590.8,255.8 600.2,260.2 609.8,262.2 614.8,262.2 623.2,260.2 623.2,257.2 620.8,253.8 619.8,250.8 618.8,239.8 622.2,230.8 629.8,221.2 639.2,213.8 650.2,209.8 662.2,203.8 670.8,197.2 676.8,185.2 677.8,166.8 678.2,166.2 678.2,160.8 678.8,160.2Z" fill="#008cff" fill-rule="evenodd"/>
<path d="M678.8,153.2 675.8,142.8 675.8,140.8 672.8,128.8 668.8,116.8 657.2,105.2 647.8,97.8 631.8,97.8 625.8,99.8 618.2,105.2 616.8,107.2 613.2,118.8 595.8,135.8 590.8,145.2 576.2,163.2 570.8,169.2 564.2,174.8 558.2,177.2 550.2,173.2 537.2,169.2 526.2,163.2 518.2,163.8 504.8,167.8 488.2,170.2 484.8,172.2 482.2,171.8 468.8,159.2 465.2,152.2 464.2,146.8 462.8,143.2 455.2,130.8 450.2,124.2 444.2,119.2 435.8,114.2 428.2,112.8 423.2,112.8 422.2,114.2 422.2,121.8 421.8,122.2 421.8,126.2 420.8,131.2 414.8,142.8 413.8,147.8 414.2,154.8 413.8,155.2 413.8,158.8 412.8,161.8 412.8,164.8 410.8,174.2 410.8,182.2 412.2,188.2 412.2,194.2 411.8,194.8 412.2,201.8 417.2,206.8 422.2,209.8 426.2,211.2 429.2,211.2 432.8,212.2 438.2,212.2 445.2,210.8 451.2,207.8 454.8,207.8 460.8,212.2 465.8,212.8 470.8,221.2 480.2,240.2 484.2,253.8 490.2,263.8 493.2,263.8 497.8,260.8 504.8,250.2 508.8,246.2 535.8,246.2 536.2,245.8 540.8,245.8 541.2,245.2 545.8,245.2 546.2,244.8 560.2,246.2 573.8,252.2 579.8,252.2 580.2,251.8 581.8,252.8 590.8,255.8 600.2,260.2 609.8,262.2 614.8,262.2 623.2,260.2 623.2,257.2 620.8,253.8 619.8,250.8 618.8,239.8 622.2,230.8 629.8,221.2 639.2,213.8 650.2,209.8 662.2,203.8 670.8,197.2 676.8,185.2 677.8,166.8 678.2,166.2 678.2,160.8 678.8,160.2Z" fill="#00b4ff" fill-rule="evenodd"/>
<path d="M669.2,117.8 657.2,105.2 647.8,97.8 631.8,97.8 625.8,99.8 617.2,106.2 613.2,118.8 595.8,135.8 590.8,145.2 573.8,166.2 564.2,174.8 558.2,177.2 550.2,173.2 537.2,169.2 526.2,163.2 518.2,163.8 504.8,167.8 488.2,170.2 484.8,172.2 482.2,171.8 468.8,159.2 465.2,152.2 464.2,146.8 462.8,143.2 455.2,130.8 450.2,124.2 444.2,119.2 437.8,115.2 434.2,113.8 431.8,113.8 428.2,112.8 425.8,116.2 426.2,116.8 426.2,122.8 425.2,124.8 425.2,128.8 423.8,131.8 423.2,136.8 421.2,141.2 418.8,144.8 418.2,159.8 416.2,164.8 416.2,171.2 415.8,171.8 415.2,177.2 414.2,179.8 415.8,185.2 415.8,194.2 415.2,194.8 419.2,203.8 420.2,208.2 424.2,210.8 432.2,211.8 432.8,212.2 438.2,212.2 445.2,210.8 451.2,207.8 454.8,207.8 460.8,212.2 465.8,212.8 470.8,221.2 480.2,240.2 484.2,253.8 490.2,263.8 493.2,263.8 497.8,260.8 504.8,250.2 508.8,246.2 535.8,246.2 536.2,245.8 540.8,245.8 541.2,245.2 545.8,245.2 546.2,244.8 560.2,246.2 573.8,252.2 579.8,252.2 580.2,251.8 602.2,260.8 609.8,262.2 614.8,262.2 619.8,260.8 623.2,260.2 623.2,257.2 620.2,252.8 619.2,243.8 618.8,243.2 618.8,239.8 621.2,232.8 623.2,229.2 629.8,221.2 637.8,214.8 641.2,212.8 650.2,209.8 662.2,203.8 670.8,197.2 676.8,185.2 677.8,166.8 678.2,166.2 678.2,160.8 678.8,160.2 678.8,153.2 675.8,142.8 675.8,140.8 672.8,128.8Z" fill="#00e0f8" fill-rule="evenodd"/>
<path d="M669.2,117.8 657.2,105.2 647.8,97.8 631.8,97.8 625.8,99.8 617.2,106.2 613.2,118.8 595.8,135.8 590.8,145.2 573.8,166.2 564.2,174.8 558.2,177.2 550.2,173.2 537.2,169.2 526.2,163.2 518.2,163.8 504.8,167.8 488.2,170.2 484.8,172.2 482.2,171.8 468.8,159.2 465.2,152.2 463.8,145.2 459.8,138.2 456.8,139.8 451.2,140.8 447.8,142.2 446.2,141.8 439.2,141.8 436.2,143.2 432.8,143.2 429.2,144.8 425.8,148.2 424.2,153.2 424.2,156.2 423.8,156.8 424.2,160.2 423.2,161.8 421.8,167.8 421.2,174.8 420.8,175.2 421.2,180.2 420.2,182.2 420.2,192.2 421.2,194.2 421.8,197.8 423.8,202.2 427.2,206.8 427.2,210.8 427.8,211.2 432.8,212.2 438.2,212.2 445.2,210.8 451.2,207.8 454.8,207.8 460.8,212.2 465.8,212.8 470.8,221.2 480.2,240.2 484.2,253.8 490.2,263.8 493.2,263.8 497.8,260.8 504.8,250.2 508.8,246.2 535.8,246.2 536.2,245.8 540.8,245.8 541.2,245.2 545.8,245.2 546.2,244.8 560.2,246.2 573.8,252.2 579.8,252.2 580.2,251.8 602.2,260.8 609.8,262.2 614.8,262.2 619.8,260.8 623.2,260.2 623.2,257.2 620.2,252.8 619.2,243.8 618.8,243.2 618.8,239.8 621.2,232.8 623.2,229.2 629.8,221.2 637.8,214.8 641.2,212.8 650.2,209.8 662.2,203.8 670.8,197.2 676.8,185.2 677.8,166.8 678.2,166.2 678.2,160.8 678.8,160.2 678.8,153.2 675.8,142.8 675.8,140.8 672.8,128.8Z" fill="#50ffaa" fill-rule="evenodd"/>
<path d="M669.2,117.8 657.2,105.2 647.8,97.8 631.8,97.8 625.8,99.8 617.2,106.2 613.2,118.8 595.8,135.8 590.8,145.2 573.8,166.2 564.2,174.8 558.2,177.2 550.2,173.2 537.2,169.2 526.2,163.2 518.2,163.8 504.8,167.8 488.2,170.2 484.8,172.2 482.2,171.8 468.8,159.2 465.8,153.2 463.2,154.2 456.8,154.2 444.8,156.8 440.2,156.8 439.8,156.2 432.8,156.8 429.8,158.2 429.8,163.8 425.2,179.8 424.2,190.2 425.8,196.2 427.2,200.2 431.8,207.2 433.2,212.2 438.2,212.2 443.2,211.2 451.2,207.8 454.8,207.8 460.8,212.2 463.2,212.2 466.2,213.2 480.2,240.2 484.2,253.8 487.2,258.8 487.8,258.2 493.8,258.2 498.2,260.2 504.8,250.2 508.8,246.2 535.8,246.2 536.2,245.8 540.8,245.8 541.2,245.2 547.2,244.8 547.8,245.2 560.2,246.2 573.8,252.2 579.8,252.2 580.2,251.8 602.2,260.8 609.8,262.2 614.8,262.2 619.8,260.8 623.2,260.2 623.2,257.2 620.2,252.8 619.2,243.8 618.8,243.2 618.8,239.8 621.2,232.8 623.2,229.2 629.8,221.2 637.8,214.8 641.2,212.8 650.2,209.8 662.2,203.8 670.8,197.2 676.8,185.2 677.8,166.8 678.2,166.2 678.2,160.8 678.8,160.2 678.8,153.2 675.8,142.8 675.8,140.8 672.8,128.8Z" fill="#96ff64" fill-rule="evenodd"/>
<path d="M669.2,117.8 657.2,105.2 647.8,97.8 631.8,97.8 628.2,99.2 626.8,99.2 617.2,106.2 613.2,118.8 595.8,135.8 590.8,145.2 573.8,166.2 566.8,172.8 562.2,175.8 558.2,177.2 550.2,173.2 537.2,169.2 526.2,163.2 521.8,163.2 521.2,163.8 515.8,164.2 504.8,167.8 488.2,170.2 484.2,172.2 481.2,171.2 472.8,162.8 467.8,165.8 464.2,168.8 442.2,168.2 437.2,170.2 434.2,173.2 432.8,175.8 432.2,179.8 430.8,181.8 428.8,188.8 429.2,192.8 433.2,202.2 439.8,211.8 445.2,210.8 451.2,207.8 454.8,207.8 460.8,212.2 463.2,212.2 466.2,213.2 480.2,240.2 484.8,254.2 491.2,253.8 501.2,255.8 504.8,250.2 508.8,246.2 535.8,246.2 536.2,245.8 540.8,245.8 541.2,245.2 547.2,244.8 547.8,245.2 560.2,246.2 573.8,252.2 579.8,252.2 580.2,251.8 602.2,260.8 609.8,262.2 614.8,262.2 619.8,260.8 623.2,260.2 623.2,257.2 620.2,252.8 619.2,243.8 618.8,243.2 618.8,239.8 621.2,232.8 623.2,229.2 629.8,221.2 637.8,214.8 641.2,212.8 650.2,209.8 662.2,203.8 670.8,197.2 676.8,185.2 677.8,166.8 678.2,166.2 678.2,160.8 678.8,160.2 678.8,153.2 675.8,142.8 675.8,140.8 672.8,128.8Z" fill="#c8ff32" fill-rule="evenodd"/>
<path d="M669.2,117.8 657.2,105.2 647.8,97.8 631.8,97.8 628.2,99.2 626.8,99.2 617.2,106.2 613.2,118.8 595.8,135.8 590.8,145.2 573.8,166.2 566.8,172.8 562.2,175.8 558.2,177.2 550.2,173.2 537.2,169.2 526.2,163.2 521.8,163.2 513.8,164.8 504.8,167.8 490.2,169.8 484.8,172.2 481.2,171.2 478.2,168.8 471.8,171.8 464.8,178.8 460.8,178.8 460.2,178.2 440.8,178.8 436.8,180.2 434.8,190.8 438.8,200.2 447.8,209.2 451.2,207.8 454.8,207.8 460.8,212.2 463.2,212.2 466.2,213.2 480.2,240.2 482.8,249.2 485.8,249.8 489.2,248.8 492.8,248.8 493.2,249.2 504.8,250.8 508.8,246.2 535.8,246.2 536.2,245.8 540.8,245.8 541.2,245.2 547.2,244.8 547.8,245.2 560.2,246.2 573.8,252.2 579.8,252.2 580.2,251.8 602.2,260.8 609.8,262.2 614.8,262.2 619.8,260.8 623.2,260.2 623.2,257.2 620.2,252.8 619.2,243.8 618.8,243.2 618.8,239.8 621.2,232.8 623.2,229.2 629.8,221.2 637.8,214.8 641.2,212.8 650.2,209.8 662.2,203.8 670.8,197.2 676.8,185.2 677.8,166.8 678.2,166.2 678.2,160.8 678.8,160.2 678.8,153.2 675.8,142.8 675.8,140.8 672.8,128.8Z" fill="#fafa00" fill-rule="evenodd"/>
<path d="M660.2,118.2 652.2,108.2 647.8,104.2 643.8,102.8 632.2,102.8 624.2,105.8 617.2,106.2 613.2,118.8 595.8,135.8 590.8,145.2 573.8,166.2 564.2,174.8 558.2,177.2 550.2,173.2 537.2,169.2 530.8,165.8 523.8,165.8 518.8,167.8 511.2,167.8 505.2,171.2 497.2,172.2 490.8,174.2 478.2,174.8 473.2,177.2 470.2,181.2 462.2,188.8 460.8,194.8 461.8,197.2 465.2,200.8 465.2,203.2 464.8,203.8 465.2,210.8 468.8,215.8 469.2,219.2 470.8,221.2 480.2,240.2 480.8,242.2 483.8,243.8 486.8,243.8 489.2,242.2 491.2,242.2 500.8,245.2 504.2,245.2 504.8,245.8 510.2,245.2 511.8,246.2 528.2,246.2 529.2,245.2 531.2,245.2 532.8,246.2 535.8,246.2 536.2,245.8 540.8,245.8 541.2,245.2 545.8,245.2 546.2,244.8 552.2,245.2 552.8,245.8 557.2,245.8 557.8,246.2 560.2,246.2 573.8,252.2 579.8,252.2 580.2,251.8 602.2,260.8 609.8,262.2 614.8,262.2 623.2,260.2 623.2,257.2 620.2,252.8 619.2,243.8 618.8,243.2 618.8,239.8 621.2,232.8 623.2,229.2 629.8,221.2 635.8,216.2 635.8,215.2 636.8,214.2 644.2,211.8 650.2,207.2 653.8,207.8 662.2,203.8 666.8,197.8 669.2,196.8 671.8,194.8 674.2,190.2 674.8,183.8 675.2,183.2 674.8,174.8 673.8,170.2 671.8,165.2 671.8,160.8 669.8,150.8 667.8,145.2 664.8,139.8 665.2,139.2 665.2,132.8 664.8,132.2 664.2,127.2Z" fill="#ffd200" fill-rule="evenodd"/>
<path d="M644.8,108.8 629.2,108.2 618.8,112.8 615.2,113.2 613.2,118.8 595.8,135.8 590.8,145.2 573.8,166.2 566.8,172.8 562.2,175.8 558.2,177.2 547.2,172.2 542.8,173.8 539.2,173.8 535.8,170.8 532.8,169.8 530.2,169.8 527.2,168.8 522.2,168.8 518.8,169.8 512.2,170.2 504.2,174.8 487.8,180.8 477.2,181.2 474.2,189.8 472.2,193.2 472.2,195.2 474.2,197.2 476.2,202.2 476.8,205.8 479.8,209.2 481.2,212.8 481.2,219.2 479.8,223.2 479.8,226.2 484.8,236.8 486.2,238.2 488.8,237.2 493.2,237.2 502.8,241.2 511.2,241.8 517.8,244.8 522.2,244.8 529.8,241.2 534.8,241.2 543.2,243.2 547.8,245.2 560.2,246.2 573.8,252.2 579.8,252.2 580.2,251.8 602.2,260.8 609.8,262.2 614.8,262.2 621.2,260.8 622.8,259.2 623.2,257.2 620.2,252.8 619.2,243.8 618.8,243.2 618.8,239.8 622.2,230.8 629.2,222.2 629.2,220.2 631.8,214.2 636.2,209.2 639.8,206.8 646.8,203.8 652.2,202.8 654.8,201.2 662.2,192.8 664.2,191.8 664.2,188.2 662.8,181.8 659.8,175.2 659.2,167.8 656.2,152.8 655.2,143.8 654.8,143.2 654.8,139.2 652.8,129.2 650.2,120.8Z" fill="#ffa500" fill-rule="evenodd"/>
<path d="M638.2,118.8 634.2,114.8 629.8,112.8 624.8,115.8 617.2,118.8 612.2,122.8 610.2,123.8 608.8,123.2 595.8,135.8 590.8,145.2 573.8,166.2 566.8,172.8 562.2,175.8 558.2,177.2 555.8,175.8 554.8,175.8 553.8,176.8 549.8,177.2 547.2,176.2 539.8,175.8 534.2,172.8 530.2,171.8 517.2,171.2 513.2,172.2 510.2,173.8 501.8,180.2 497.2,182.2 494.8,185.2 492.2,191.2 492.8,196.2 494.8,199.8 493.2,206.8 493.2,210.8 493.8,211.2 493.8,215.2 494.8,219.2 496.2,222.2 496.8,226.2 501.2,233.2 505.2,237.2 507.2,236.8 512.8,237.2 518.2,239.8 519.2,240.8 520.8,240.8 525.8,237.8 530.2,236.8 536.8,236.8 541.2,237.8 546.8,240.2 553.2,245.8 560.2,246.2 573.8,252.2 579.8,252.2 580.2,251.8 602.2,260.8 603.8,260.8 606.2,258.8 610.8,258.2 615.8,255.8 616.8,254.8 617.8,250.8 617.8,239.8 619.8,237.8 622.2,230.8 625.2,227.2 623.8,223.8 624.2,219.2 626.8,215.8 630.8,211.8 633.8,205.8 638.2,200.2 643.2,197.8 648.8,197.8 649.8,194.2 649.8,185.8 648.8,181.8 648.8,177.8 645.2,163.8 643.8,148.2 642.2,141.8 641.8,128.8 639.8,121.8Z" fill="#ff7800" fill-rule="evenodd"/>
<path d="M626.8,125.8 623.2,123.2 622.2,123.2 619.8,125.8 615.8,127.8 610.8,127.8 606.2,125.8 600.2,131.2 601.2,133.8 600.8,134.8 599.2,135.8 595.2,136.8 590.8,145.2 573.8,166.2 564.2,174.8 559.8,176.8 559.8,180.2 558.2,181.8 555.8,181.8 552.2,180.2 542.2,178.2 533.8,174.8 525.8,173.8 525.2,173.2 516.2,173.2 511.2,175.8 506.2,181.8 501.8,191.8 501.8,197.2 503.2,204.2 503.8,210.8 506.2,217.2 510.8,222.8 511.2,224.2 514.8,227.8 519.8,230.2 528.8,231.2 529.2,231.8 535.8,231.2 541.8,232.8 545.8,234.8 551.8,239.2 559.2,243.8 563.2,247.8 573.8,252.2 579.8,252.2 580.2,251.8 581.8,252.8 590.8,255.8 596.8,258.8 599.2,258.2 608.8,252.8 612.2,248.8 614.8,241.2 616.8,237.2 621.2,232.8 622.2,230.8 622.2,228.2 620.2,223.2 620.8,217.2 622.8,213.8 628.2,209.2 628.2,201.8 627.8,201.2 627.8,197.8 626.8,195.2 627.2,193.8 627.2,183.8 624.8,174.8 627.8,169.2 629.8,163.2 630.2,157.8 630.8,157.2 631.2,145.8 630.8,145.2 630.2,134.8 628.8,129.2Z" fill="#ff5a00" fill-rule="evenodd"/>
<path d="M613.2,141.8 611.8,140.2 609.2,140.2 604.2,142.2 598.8,143.2 594.2,145.2 592.2,147.2 591.8,149.2 589.8,152.2 581.2,157.2 570.8,169.2 564.2,174.8 561.8,175.8 561.2,181.2 558.2,183.8 554.8,183.8 548.8,181.8 544.8,181.2 534.2,176.8 526.8,176.2 520.2,174.8 517.2,174.8 515.2,175.8 512.2,178.2 510.8,181.2 508.2,191.2 508.2,195.8 508.8,196.2 509.2,201.8 510.8,206.8 513.2,211.2 516.8,215.2 520.2,217.8 525.2,219.8 528.2,221.8 540.2,225.2 544.2,227.2 552.2,234.8 560.2,239.8 564.8,243.8 568.8,245.8 577.2,248.2 582.2,251.2 590.2,251.8 595.8,254.8 598.2,254.8 600.8,253.8 607.8,246.8 613.2,239.2 615.8,233.8 618.8,230.2 615.8,222.2 615.8,214.8 617.8,210.2 617.8,205.8 615.8,198.8 613.8,195.2 613.2,188.8 609.8,175.2 614.2,162.2 615.8,155.8 615.8,147.8 614.8,144.2Z" fill="#ff3000" fill-rule="evenodd"/>
<path d="M517.8,177.2 515.2,182.2 514.8,187.8 515.2,188.2 515.8,197.8 518.2,204.8 523.2,208.8 528.2,211.2 545.8,218.2 551.2,224.2 555.2,231.8 560.2,234.2 565.8,239.8 573.8,241.8 576.8,243.2 580.2,246.8 583.8,246.8 584.2,246.2 591.2,246.8 597.8,249.8 600.8,245.8 607.8,238.8 611.2,236.8 611.2,229.8 605.8,212.2 605.2,207.2 600.2,182.2 598.8,176.8 597.8,175.2 597.2,166.8 594.8,163.2 591.8,162.8 591.2,163.2 585.8,163.8 574.8,167.8 566.2,173.2 564.2,175.2 563.2,182.2 559.2,185.8 553.8,185.8 549.8,184.2 542.8,183.2 540.2,182.2 535.2,178.8 523.8,178.8Z" fill="#ee0600" fill-rule="evenodd"/>
<path d="M523.8,184.2 522.8,186.8 522.8,188.8 525.2,195.2 532.2,201.2 543.8,206.8 548.8,207.8 555.2,212.2 559.2,212.8 560.2,214.2 562.2,224.8 567.2,228.8 571.2,230.8 576.2,232.2 583.8,232.8 586.2,231.8 590.2,226.8 591.2,224.2 590.2,217.2 586.8,209.8 585.2,203.8 582.8,199.2 582.8,197.8 586.2,193.8 588.2,188.2 588.2,177.8 587.8,175.2 583.2,173.2 578.2,172.2 571.2,176.2 567.2,177.2 566.8,177.8 566.8,182.2 565.8,184.2 562.8,187.2 558.8,188.8 556.2,188.8 547.8,186.2 547.2,186.8 541.8,186.8 537.8,184.8 534.8,181.2 530.2,182.8 525.2,183.2Z" fill="#bc0000" fill-rule="evenodd"/>
<path d="M570.2,191.2 569.8,190.2 568.8,190.2 564.8,192.2 557.8,192.8 557.2,192.2 554.8,192.2 551.2,190.8 548.2,192.8 547.8,197.2 550.8,201.8 554.2,204.8 563.2,204.8 563.8,205.2 568.8,204.8 570.2,200.8 570.2,196.8 570.8,196.2Z" fill="#8a0000" fill-rule="evenodd"/>
</g>
<text x="411" y="260" font-size="16" text-anchor="start" fill="#fff" color="#fff" >2 mm</text>
<rect x="410" y="267" width="43.6" height="4.6" fill="#fff"/>
<text x="33.6" y="349.2" font-size="28" text-anchor="start" fill="#161616" color="#161616" >B</text>
<line x1="98.8" y1="365.79999999999995" x2="98.8" y2="538.2" stroke="#333" stroke-width="1.2"/><line x1="95.6" y1="366.4" x2="98.8" y2="366.4" stroke="#333" stroke-width="1.2"/><text x="93.6" y="370.0" font-size="13.5" text-anchor="end" fill="#161616" color="#161616" >60</text><line x1="95.6" y1="409.2" x2="98.8" y2="409.2" stroke="#333" stroke-width="1.2"/><text x="93.6" y="412.8" font-size="13.5" text-anchor="end" fill="#161616" color="#161616" >50</text><line x1="95.6" y1="452.0" x2="98.8" y2="452.0" stroke="#333" stroke-width="1.2"/><text x="93.6" y="455.6" font-size="13.5" text-anchor="end" fill="#161616" color="#161616" >40</text><line x1="95.6" y1="494.8" x2="98.8" y2="494.8" stroke="#333" stroke-width="1.2"/><text x="93.6" y="498.4" font-size="13.5" text-anchor="end" fill="#161616" color="#161616" >30</text><line x1="95.6" y1="537.6" x2="98.8" y2="537.6" stroke="#333" stroke-width="1.2"/><text x="93.6" y="541.2" font-size="13.5" text-anchor="end" fill="#161616" color="#161616" >20</text>
<line x1="98.8" y1="537.6" x2="312" y2="537.6" stroke="#444" stroke-width="1.2"/>
<line x1="152.6" y1="537.6" x2="152.6" y2="540.8" stroke="#444" stroke-width="1.2"/>
<line x1="259" y1="537.6" x2="259" y2="540.8" stroke="#444" stroke-width="1.2"/>
<text x="153.8" y="553" font-size="13.5" text-anchor="middle" fill="#161616" color="#161616" >Young</text>
<text x="259.5" y="552.6" font-size="13.5" text-anchor="middle" fill="#161616" color="#161616" >Aged</text>
<text transform="translate(66.6,450.5) rotate(-90)" font-size="13.3" text-anchor="middle" fill="#161616" color="#161616">RA conduction velocity (cm/s)</text>
<text x="165.6" y="380" font-size="18" fill="#161616" color="#161616"><tspan font-style="italic">P</tspan> &lt; 0.001</text>
<line x1="128.8" y1="387.8" x2="278.6" y2="387.8" stroke="#161616" stroke-width="1.9"/>
<circle cx="131.4" cy="416.5" r="1.8" fill="#161616"/><circle cx="116.4" cy="429" r="1.8" fill="#161616"/><circle cx="126.3" cy="427.9" r="1.8" fill="#161616"/><circle cx="131.4" cy="426" r="1.8" fill="#161616"/><circle cx="136.5" cy="426.7" r="1.8" fill="#161616"/><circle cx="146.4" cy="427.9" r="1.8" fill="#161616"/><circle cx="131.4" cy="436.2" r="1.8" fill="#161616"/><circle cx="121.3" cy="444.4" r="1.8" fill="#161616"/><circle cx="141.6" cy="444" r="1.8" fill="#161616"/><circle cx="131.4" cy="451" r="1.8" fill="#161616"/>
<line x1="174" y1="416.2" x2="174" y2="426.4" stroke="#3a3a3a" stroke-width="1.2"/><line x1="174" y1="444.2" x2="174" y2="451.2" stroke="#3a3a3a" stroke-width="1.2"/><rect x="169.3" y="426.4" width="9.5" height="17.80000000000001" fill="none" stroke="#3a3a3a" stroke-width="1.2"/><line x1="169.3" y1="427.6" x2="178.8" y2="427.6" stroke="#3a3a3a" stroke-width="1.2"/>
<circle cx="237.7" cy="423.9" r="1.85" fill="#d90a10"/><circle cx="233.9" cy="426.8" r="1.85" fill="#d90a10"/><circle cx="238" cy="428.7" r="1.85" fill="#d90a10"/><circle cx="241.6" cy="428.7" r="1.85" fill="#d90a10"/><circle cx="239.4" cy="435.5" r="1.85" fill="#d90a10"/><circle cx="235.9" cy="439.9" r="1.85" fill="#d90a10"/><circle cx="219.3" cy="447.2" r="1.85" fill="#d90a10"/><circle cx="237.7" cy="445.8" r="1.85" fill="#d90a10"/><circle cx="248.9" cy="447.2" r="1.85" fill="#d90a10"/><circle cx="252.6" cy="447.2" r="1.85" fill="#d90a10"/><circle cx="256.2" cy="447.2" r="1.85" fill="#d90a10"/><circle cx="245.3" cy="448.4" r="1.85" fill="#d90a10"/><circle cx="230.4" cy="448.4" r="1.85" fill="#d90a10"/><circle cx="226.7" cy="450.6" r="1.85" fill="#d90a10"/><circle cx="234" cy="450.1" r="1.85" fill="#d90a10"/><circle cx="241.3" cy="449.9" r="1.85" fill="#d90a10"/><circle cx="223.1" cy="452" r="1.85" fill="#d90a10"/><circle cx="252.6" cy="453.4" r="1.85" fill="#d90a10"/><circle cx="256.2" cy="455" r="1.85" fill="#d90a10"/><circle cx="219.3" cy="456.7" r="1.85" fill="#d90a10"/><circle cx="223.1" cy="456.7" r="1.85" fill="#d90a10"/><circle cx="234" cy="454.5" r="1.85" fill="#d90a10"/><circle cx="237.7" cy="455.7" r="1.85" fill="#d90a10"/><circle cx="226.7" cy="458.9" r="1.85" fill="#d90a10"/><circle cx="228.8" cy="460.4" r="1.85" fill="#d90a10"/><circle cx="230.4" cy="459.3" r="1.85" fill="#d90a10"/><circle cx="241.6" cy="459.3" r="1.85" fill="#d90a10"/><circle cx="245.3" cy="457.9" r="1.85" fill="#d90a10"/><circle cx="248.9" cy="458.9" r="1.85" fill="#d90a10"/><circle cx="235.9" cy="463.7" r="1.85" fill="#d90a10"/><circle cx="239.4" cy="463.7" r="1.85" fill="#d90a10"/><circle cx="232.4" cy="468.4" r="1.85" fill="#d90a10"/><circle cx="243.4" cy="468.4" r="1.85" fill="#d90a10"/><circle cx="247" cy="466.5" r="1.85" fill="#d90a10"/><circle cx="237.7" cy="473.1" r="1.85" fill="#d90a10"/><circle cx="235.9" cy="479.3" r="1.85" fill="#d90a10"/><circle cx="239.4" cy="479.3" r="1.85" fill="#d90a10"/><circle cx="237.7" cy="490.9" r="1.85" fill="#d90a10"/>
<line x1="280.3" y1="423.9" x2="280.3" y2="447.2" stroke="#d90a10" stroke-width="1.2"/><line x1="280.3" y1="461.4" x2="280.3" y2="491.4" stroke="#d90a10" stroke-width="1.2"/><rect x="276.2" y="447.2" width="8.5" height="14.199999999999989" fill="none" stroke="#d90a10" stroke-width="1.2"/><line x1="276.2" y1="454.2" x2="284.7" y2="454.2" stroke="#d90a10" stroke-width="1.2"/>
<text x="355.6" y="348.2" font-size="28" text-anchor="start" fill="#161616" color="#161616" >C</text>
<line x1="419.5" y1="363.79999999999995" x2="419.5" y2="538.0" stroke="#333" stroke-width="1.2"/><line x1="416.3" y1="364.4" x2="419.5" y2="364.4" stroke="#333" stroke-width="1.2"/><text x="413.2" y="368.0" font-size="13.5" text-anchor="end" fill="#161616" color="#161616" >60</text><line x1="416.3" y1="386.02" x2="419.5" y2="386.02" stroke="#333" stroke-width="1.2"/><text x="413.2" y="389.62" font-size="13.5" text-anchor="end" fill="#161616" color="#161616" >55</text><line x1="416.3" y1="407.65" x2="419.5" y2="407.65" stroke="#333" stroke-width="1.2"/><text x="413.2" y="411.25" font-size="13.5" text-anchor="end" fill="#161616" color="#161616" >50</text><line x1="416.3" y1="429.27" x2="419.5" y2="429.27" stroke="#333" stroke-width="1.2"/><text x="413.2" y="432.87" font-size="13.5" text-anchor="end" fill="#161616" color="#161616" >45</text><line x1="416.3" y1="450.9" x2="419.5" y2="450.9" stroke="#333" stroke-width="1.2"/><text x="413.2" y="454.5" font-size="13.5" text-anchor="end" fill="#161616" color="#161616" >40</text><line x1="416.3" y1="472.52" x2="419.5" y2="472.52" stroke="#333" stroke-width="1.2"/><text x="413.2" y="476.12" font-size="13.5" text-anchor="end" fill="#161616" color="#161616" >35</text><line x1="416.3" y1="494.15" x2="419.5" y2="494.15" stroke="#333" stroke-width="1.2"/><text x="413.2" y="497.75" font-size="13.5" text-anchor="end" fill="#161616" color="#161616" >30</text><line x1="416.3" y1="515.77" x2="419.5" y2="515.77" stroke="#333" stroke-width="1.2"/><text x="413.2" y="519.37" font-size="13.5" text-anchor="end" fill="#161616" color="#161616" >25</text><line x1="416.3" y1="537.4" x2="419.5" y2="537.4" stroke="#333" stroke-width="1.2"/><text x="413.2" y="541.0" font-size="13.5" text-anchor="end" fill="#161616" color="#161616" >20</text>
<line x1="419.5" y1="537.4" x2="634.4" y2="537.4" stroke="#444" stroke-width="1.2"/>
<line x1="473.4" y1="537.4" x2="473.4" y2="540.6" stroke="#444" stroke-width="1.2"/>
<line x1="581.4" y1="537.4" x2="581.4" y2="540.6" stroke="#444" stroke-width="1.2"/>
<text x="474.3" y="553" font-size="13.5" text-anchor="middle" fill="#161616" color="#161616" >Young</text>
<text x="582" y="553" font-size="13.5" text-anchor="middle" fill="#161616" color="#161616" >Aged</text>
<text transform="translate(386.2,449.5) rotate(-90)" font-size="13.2" text-anchor="middle" fill="#161616" color="#161616">LA conduction velocity (cm/s)</text>
<text x="487.6" y="379.6" font-size="18.7" fill="#161616" color="#161616"><tspan font-style="italic">P</tspan> &lt; 0.05</text>
<line x1="451.6" y1="388.2" x2="601.6" y2="388.2" stroke="#161616" stroke-width="1.9"/>
<circle cx="451.8" cy="424.2" r="1.8" fill="#161616"/><circle cx="446.6" cy="429.4" r="1.8" fill="#161616"/><circle cx="451.8" cy="434.1" r="1.8" fill="#161616"/><circle cx="456.9" cy="432.3" r="1.8" fill="#161616"/><circle cx="451.8" cy="446.8" r="1.8" fill="#161616"/><circle cx="436.4" cy="451.3" r="1.8" fill="#161616"/><circle cx="446.6" cy="453.8" r="1.8" fill="#161616"/><circle cx="456.9" cy="457.9" r="1.8" fill="#161616"/><circle cx="467" cy="459.6" r="1.8" fill="#161616"/><circle cx="451.8" cy="481.5" r="1.8" fill="#161616"/>
<line x1="494.9" y1="424.2" x2="494.9" y2="432.3" stroke="#3a3a3a" stroke-width="1.2"/><line x1="494.9" y1="457.9" x2="494.9" y2="481.5" stroke="#3a3a3a" stroke-width="1.2"/><rect x="490.5" y="432.3" width="8.800000000000011" height="25.599999999999966" fill="none" stroke="#3a3a3a" stroke-width="1.2"/><line x1="490.5" y1="446.8" x2="499.3" y2="446.8" stroke="#3a3a3a" stroke-width="1.2"/>
<circle cx="559.7" cy="424.3" r="1.85" fill="#d90a10"/><circle cx="559.7" cy="426" r="1.85" fill="#d90a10"/><circle cx="559.7" cy="438.5" r="1.85" fill="#d90a10"/><circle cx="556.1" cy="441.8" r="1.85" fill="#d90a10"/><circle cx="563.4" cy="441.4" r="1.85" fill="#d90a10"/><circle cx="567" cy="443.9" r="1.85" fill="#d90a10"/><circle cx="556.1" cy="446.8" r="1.85" fill="#d90a10"/><circle cx="563.4" cy="446.5" r="1.85" fill="#d90a10"/><circle cx="552.4" cy="448.7" r="1.85" fill="#d90a10"/><circle cx="559.7" cy="450.1" r="1.85" fill="#d90a10"/><circle cx="548.8" cy="451.3" r="1.85" fill="#d90a10"/><circle cx="541.2" cy="455" r="1.85" fill="#d90a10"/><circle cx="545.1" cy="457.4" r="1.85" fill="#d90a10"/><circle cx="552.4" cy="455" r="1.85" fill="#d90a10"/><circle cx="556.1" cy="457.4" r="1.85" fill="#d90a10"/><circle cx="559.7" cy="457.4" r="1.85" fill="#d90a10"/><circle cx="563.4" cy="458.5" r="1.85" fill="#d90a10"/><circle cx="567" cy="456.7" r="1.85" fill="#d90a10"/><circle cx="570.7" cy="459.6" r="1.85" fill="#d90a10"/><circle cx="574.6" cy="455.7" r="1.85" fill="#d90a10"/><circle cx="578.2" cy="456.7" r="1.85" fill="#d90a10"/><circle cx="554" cy="462.8" r="1.85" fill="#d90a10"/><circle cx="557.8" cy="461.8" r="1.85" fill="#d90a10"/><circle cx="561.6" cy="461.4" r="1.85" fill="#d90a10"/><circle cx="565.3" cy="465.5" r="1.85" fill="#d90a10"/><circle cx="550.2" cy="473.1" r="1.85" fill="#d90a10"/><circle cx="554" cy="472.5" r="1.85" fill="#d90a10"/><circle cx="557.8" cy="471.3" r="1.85" fill="#d90a10"/><circle cx="561.6" cy="471.3" r="1.85" fill="#d90a10"/><circle cx="568.9" cy="472" r="1.85" fill="#d90a10"/><circle cx="557.8" cy="477.4" r="1.85" fill="#d90a10"/><circle cx="565.3" cy="476.9" r="1.85" fill="#d90a10"/><circle cx="561.6" cy="481.8" r="1.85" fill="#d90a10"/><circle cx="559.6" cy="490.4" r="1.85" fill="#d90a10"/><circle cx="556" cy="495" r="1.85" fill="#d90a10"/><circle cx="563.6" cy="499" r="1.85" fill="#d90a10"/>
<line x1="603.1" y1="424.3" x2="603.1" y2="450.6" stroke="#d90a10" stroke-width="1.2"/><line x1="603.1" y1="471.3" x2="603.1" y2="499.4" stroke="#d90a10" stroke-width="1.2"/><rect x="598.7" y="450.6" width="8.699999999999932" height="20.69999999999999" fill="none" stroke="#d90a10" stroke-width="1.2"/><line x1="598.7" y1="457.2" x2="607.4" y2="457.2" stroke="#d90a10" stroke-width="1.2"/>
<text x="33.6" y="586.6" font-size="28" text-anchor="start" fill="#161616" color="#161616" >D</text>
<line x1="97.4" y1="599.0" x2="97.4" y2="771.6" stroke="#333" stroke-width="1.2"/><line x1="94.2" y1="599.6" x2="97.4" y2="599.6" stroke="#333" stroke-width="1.2"/><text x="91.8" y="603.2" font-size="13.5" text-anchor="end" fill="#161616" color="#161616" >60</text><line x1="94.2" y1="621.02" x2="97.4" y2="621.02" stroke="#333" stroke-width="1.2"/><text x="91.8" y="624.62" font-size="13.5" text-anchor="end" fill="#161616" color="#161616" >55</text><line x1="94.2" y1="642.45" x2="97.4" y2="642.45" stroke="#333" stroke-width="1.2"/><text x="91.8" y="646.05" font-size="13.5" text-anchor="end" fill="#161616" color="#161616" >50</text><line x1="94.2" y1="663.88" x2="97.4" y2="663.88" stroke="#333" stroke-width="1.2"/><text x="91.8" y="667.48" font-size="13.5" text-anchor="end" fill="#161616" color="#161616" >45</text><line x1="94.2" y1="685.3" x2="97.4" y2="685.3" stroke="#333" stroke-width="1.2"/><text x="91.8" y="688.9" font-size="13.5" text-anchor="end" fill="#161616" color="#161616" >40</text><line x1="94.2" y1="706.73" x2="97.4" y2="706.73" stroke="#333" stroke-width="1.2"/><text x="91.8" y="710.33" font-size="13.5" text-anchor="end" fill="#161616" color="#161616" >35</text><line x1="94.2" y1="728.15" x2="97.4" y2="728.15" stroke="#333" stroke-width="1.2"/><text x="91.8" y="731.75" font-size="13.5" text-anchor="end" fill="#161616" color="#161616" >30</text><line x1="94.2" y1="749.58" x2="97.4" y2="749.58" stroke="#333" stroke-width="1.2"/><text x="91.8" y="753.18" font-size="13.5" text-anchor="end" fill="#161616" color="#161616" >25</text><line x1="94.2" y1="771.0" x2="97.4" y2="771.0" stroke="#333" stroke-width="1.2"/><text x="91.8" y="774.6" font-size="13.5" text-anchor="end" fill="#161616" color="#161616" >20</text>
<line x1="97.4" y1="771" x2="310.4" y2="771" stroke="#444" stroke-width="1.2"/>
<line x1="97.4" y1="771" x2="97.4" y2="774.2" stroke="#444" stroke-width="1.2"/>
<text x="97.4" y="788" font-size="13.5" text-anchor="middle" fill="#161616" color="#161616" >0.0</text>
<line x1="139.92" y1="771" x2="139.92" y2="774.2" stroke="#444" stroke-width="1.2"/>
<text x="139.92" y="788" font-size="13.5" text-anchor="middle" fill="#161616" color="#161616" >0.1</text>
<line x1="182.44" y1="771" x2="182.44" y2="774.2" stroke="#444" stroke-width="1.2"/>
<text x="182.44" y="788" font-size="13.5" text-anchor="middle" fill="#161616" color="#161616" >0.2</text>
<line x1="224.96" y1="771" x2="224.96" y2="774.2" stroke="#444" stroke-width="1.2"/>
<text x="224.96" y="788" font-size="13.5" text-anchor="middle" fill="#161616" color="#161616" >0.3</text>
<line x1="267.48" y1="771" x2="267.48" y2="774.2" stroke="#444" stroke-width="1.2"/>
<text x="267.48" y="788" font-size="13.5" text-anchor="middle" fill="#161616" color="#161616" >0.4</text>
<line x1="310.0" y1="771" x2="310.0" y2="774.2" stroke="#444" stroke-width="1.2"/>
<text x="310.0" y="788" font-size="13.5" text-anchor="middle" fill="#161616" color="#161616" >0.5</text>
<text x="207.5" y="804" font-size="13.5" text-anchor="middle" fill="#161616" color="#161616" >Frailty index</text>
<text transform="translate(66.6,680.5) rotate(-90)" font-size="13.3" text-anchor="middle" fill="#161616" color="#161616">RA conduction velocity (cm/s)</text>
<text x="241.2" y="624.6" font-size="13.4" text-anchor="start" fill="#161616" color="#161616" >R = -0.75</text>
<text x="241.2" y="641.1" font-size="13.4" fill="#161616" color="#161616"><tspan font-style="italic">P</tspan> &lt; 0.0001</text>
<line x1="97.4" y1="653" x2="311.4" y2="722.4" stroke="#161616" stroke-width="1.2"/>
<circle cx="111" cy="649.7" r="1.8" fill="#161616"/><circle cx="124.8" cy="659.2" r="1.8" fill="#161616"/><circle cx="131.4" cy="660.4" r="1.8" fill="#161616"/><circle cx="133.2" cy="661" r="1.8" fill="#161616"/><circle cx="135" cy="661.8" r="1.8" fill="#161616"/><circle cx="117.8" cy="669.4" r="1.8" fill="#161616"/><circle cx="135" cy="677.2" r="1.8" fill="#161616"/><circle cx="142" cy="677.9" r="1.8" fill="#161616"/><circle cx="138.4" cy="684.3" r="1.8" fill="#161616"/>
<circle cx="165.7" cy="660" r="1.85" fill="#d90a10"/><circle cx="165.7" cy="661.8" r="1.85" fill="#d90a10"/><circle cx="172.6" cy="668.7" r="1.85" fill="#d90a10"/><circle cx="165.7" cy="680.7" r="1.85" fill="#d90a10"/><circle cx="169.3" cy="680.7" r="1.85" fill="#d90a10"/><circle cx="190.2" cy="661.8" r="1.85" fill="#d90a10"/><circle cx="197.2" cy="657" r="1.85" fill="#d90a10"/><circle cx="207.3" cy="672.8" r="1.85" fill="#d90a10"/><circle cx="207.3" cy="679.3" r="1.85" fill="#d90a10"/><circle cx="207.3" cy="680.8" r="1.85" fill="#d90a10"/><circle cx="190.2" cy="680.4" r="1.85" fill="#d90a10"/><circle cx="190.2" cy="682.3" r="1.85" fill="#d90a10"/><circle cx="193.9" cy="681.4" r="1.85" fill="#d90a10"/><circle cx="197.2" cy="683.7" r="1.85" fill="#d90a10"/><circle cx="200.4" cy="681.4" r="1.85" fill="#d90a10"/><circle cx="203.8" cy="685.2" r="1.85" fill="#d90a10"/><circle cx="200.4" cy="688.1" r="1.85" fill="#d90a10"/><circle cx="214" cy="683.7" r="1.85" fill="#d90a10"/><circle cx="214" cy="686.2" r="1.85" fill="#d90a10"/><circle cx="217.7" cy="688.4" r="1.85" fill="#d90a10"/><circle cx="221.3" cy="689.1" r="1.85" fill="#d90a10"/><circle cx="221.3" cy="690.1" r="1.85" fill="#d90a10"/><circle cx="231.5" cy="691.3" r="1.85" fill="#d90a10"/><circle cx="252.3" cy="697.2" r="1.85" fill="#d90a10"/><circle cx="180.7" cy="696.9" r="1.85" fill="#d90a10"/><circle cx="193.6" cy="689.9" r="1.85" fill="#d90a10"/><circle cx="203.8" cy="693.1" r="1.85" fill="#d90a10"/><circle cx="203.8" cy="694.2" r="1.85" fill="#d90a10"/><circle cx="207.3" cy="692.5" r="1.85" fill="#d90a10"/><circle cx="214" cy="692.8" r="1.85" fill="#d90a10"/><circle cx="193.6" cy="701.5" r="1.85" fill="#d90a10"/><circle cx="214" cy="700" r="1.85" fill="#d90a10"/><circle cx="217.7" cy="701.5" r="1.85" fill="#d90a10"/><circle cx="214" cy="706.4" r="1.85" fill="#d90a10"/><circle cx="303.6" cy="724.6" r="1.85" fill="#d90a10"/>
<text x="347.8" y="587" font-size="28" text-anchor="start" fill="#161616" color="#161616" >E</text>
<line x1="419.5" y1="596.4499999999999" x2="419.5" y2="771.6" stroke="#333" stroke-width="1.2"/><line x1="416.3" y1="597.05" x2="419.5" y2="597.05" stroke="#333" stroke-width="1.2"/><text x="413.2" y="600.65" font-size="13.5" text-anchor="end" fill="#161616" color="#161616" >55</text><line x1="416.3" y1="621.9" x2="419.5" y2="621.9" stroke="#333" stroke-width="1.2"/><text x="413.2" y="625.5" font-size="13.5" text-anchor="end" fill="#161616" color="#161616" >50</text><line x1="416.3" y1="646.75" x2="419.5" y2="646.75" stroke="#333" stroke-width="1.2"/><text x="413.2" y="650.35" font-size="13.5" text-anchor="end" fill="#161616" color="#161616" >45</text><line x1="416.3" y1="671.6" x2="419.5" y2="671.6" stroke="#333" stroke-width="1.2"/><text x="413.2" y="675.2" font-size="13.5" text-anchor="end" fill="#161616" color="#161616" >40</text><line x1="416.3" y1="696.45" x2="419.5" y2="696.45" stroke="#333" stroke-width="1.2"/><text x="413.2" y="700.05" font-size="13.5" text-anchor="end" fill="#161616" color="#161616" >35</text><line x1="416.3" y1="721.3" x2="419.5" y2="721.3" stroke="#333" stroke-width="1.2"/><text x="413.2" y="724.9" font-size="13.5" text-anchor="end" fill="#161616" color="#161616" >30</text><line x1="416.3" y1="746.15" x2="419.5" y2="746.15" stroke="#333" stroke-width="1.2"/><text x="413.2" y="749.75" font-size="13.5" text-anchor="end" fill="#161616" color="#161616" >25</text><line x1="416.3" y1="771.0" x2="419.5" y2="771.0" stroke="#333" stroke-width="1.2"/><text x="413.2" y="774.6" font-size="13.5" text-anchor="end" fill="#161616" color="#161616" >20</text>
<line x1="419.5" y1="771" x2="636.8" y2="771" stroke="#444" stroke-width="1.2"/>
<line x1="419.5" y1="771" x2="419.5" y2="774.2" stroke="#444" stroke-width="1.2"/>
<text x="419.5" y="788" font-size="13.5" text-anchor="middle" fill="#161616" color="#161616" >0.0</text>
<line x1="473.8" y1="771" x2="473.8" y2="774.2" stroke="#444" stroke-width="1.2"/>
<text x="473.8" y="788" font-size="13.5" text-anchor="middle" fill="#161616" color="#161616" >0.1</text>
<line x1="528.1" y1="771" x2="528.1" y2="774.2" stroke="#444" stroke-width="1.2"/>
<text x="528.1" y="788" font-size="13.5" text-anchor="middle" fill="#161616" color="#161616" >0.2</text>
<line x1="582.4" y1="771" x2="582.4" y2="774.2" stroke="#444" stroke-width="1.2"/>
<text x="582.4" y="788" font-size="13.5" text-anchor="middle" fill="#161616" color="#161616" >0.3</text>
<line x1="636.7" y1="771" x2="636.7" y2="774.2" stroke="#444" stroke-width="1.2"/>
<text x="636.7" y="788" font-size="13.5" text-anchor="middle" fill="#161616" color="#161616" >0.4</text>
<text x="531.9" y="803" font-size="13.5" text-anchor="middle" fill="#161616" color="#161616" >Frailty index</text>
<text transform="translate(387.2,681.2) rotate(-90)" font-size="13.2" text-anchor="middle" fill="#161616" color="#161616">LA conduction velocity (cm/s)</text>
<text x="565.6" y="620.4" font-size="13.5" text-anchor="start" fill="#161616" color="#161616" >R = -0.50</text>
<text x="565.6" y="637.4" font-size="13.5" fill="#161616" color="#161616"><tspan font-style="italic">P</tspan> = 0.0004</text>
<line x1="419.6" y1="652" x2="637.6" y2="702.6" stroke="#161616" stroke-width="1.2"/>
<circle cx="437.4" cy="640.4" r="1.8" fill="#161616"/><circle cx="454.6" cy="651.6" r="1.8" fill="#161616"/><circle cx="463.4" cy="646.6" r="1.8" fill="#161616"/><circle cx="463.4" cy="649.6" r="1.8" fill="#161616"/><circle cx="446" cy="679" r="1.8" fill="#161616"/><circle cx="467.8" cy="666.4" r="1.8" fill="#161616"/><circle cx="467.8" cy="671.4" r="1.8" fill="#161616"/><circle cx="472.2" cy="674.4" r="1.8" fill="#161616"/><circle cx="476.6" cy="681" r="1.8" fill="#161616"/><circle cx="467.8" cy="706.4" r="1.8" fill="#161616"/>
<circle cx="507" cy="640.5" r="1.85" fill="#d90a10"/><circle cx="507" cy="642.4" r="1.85" fill="#d90a10"/><circle cx="515.5" cy="660.7" r="1.85" fill="#d90a10"/><circle cx="511.1" cy="671.3" r="1.85" fill="#d90a10"/><circle cx="507" cy="676" r="1.85" fill="#d90a10"/><circle cx="537.7" cy="660.4" r="1.85" fill="#d90a10"/><circle cx="542" cy="662.8" r="1.85" fill="#d90a10"/><circle cx="546.4" cy="666" r="1.85" fill="#d90a10"/><circle cx="550.8" cy="669" r="1.85" fill="#d90a10"/><circle cx="537.7" cy="670.1" r="1.85" fill="#d90a10"/><circle cx="559.3" cy="657" r="1.85" fill="#d90a10"/><circle cx="576.8" cy="666.8" r="1.85" fill="#d90a10"/><circle cx="537.7" cy="678.6" r="1.85" fill="#d90a10"/><circle cx="546.4" cy="678.6" r="1.85" fill="#d90a10"/><circle cx="550.8" cy="679.9" r="1.85" fill="#d90a10"/><circle cx="555.2" cy="677.4" r="1.85" fill="#d90a10"/><circle cx="555.2" cy="679.3" r="1.85" fill="#d90a10"/><circle cx="555.2" cy="681.1" r="1.85" fill="#d90a10"/><circle cx="559.3" cy="678.6" r="1.85" fill="#d90a10"/><circle cx="568" cy="675.5" r="1.85" fill="#d90a10"/><circle cx="568" cy="677.9" r="1.85" fill="#d90a10"/><circle cx="568" cy="682.8" r="1.85" fill="#d90a10"/><circle cx="572.4" cy="684.3" r="1.85" fill="#d90a10"/><circle cx="559.3" cy="687.8" r="1.85" fill="#d90a10"/><circle cx="542" cy="694.2" r="1.85" fill="#d90a10"/><circle cx="568" cy="695.4" r="1.85" fill="#d90a10"/><circle cx="568" cy="696.9" r="1.85" fill="#d90a10"/><circle cx="576.8" cy="695.4" r="1.85" fill="#d90a10"/><circle cx="524.8" cy="701.2" r="1.85" fill="#d90a10"/><circle cx="542" cy="700.8" r="1.85" fill="#d90a10"/><circle cx="559.3" cy="706.4" r="1.85" fill="#d90a10"/><circle cx="550.4" cy="669" r="1.85" fill="#d90a10"/><circle cx="577" cy="666.6" r="1.85" fill="#d90a10"/><circle cx="555" cy="680.4" r="1.85" fill="#d90a10"/><circle cx="550" cy="680" r="1.85" fill="#d90a10"/><circle cx="568" cy="683" r="1.85" fill="#d90a10"/><circle cx="559.4" cy="687.6" r="1.85" fill="#d90a10"/><circle cx="568" cy="695" r="1.85" fill="#d90a10"/><circle cx="577" cy="695.4" r="1.85" fill="#d90a10"/><circle cx="616.4" cy="694.2" r="1.85" fill="#d90a10"/><circle cx="590" cy="716.4" r="1.85" fill="#d90a10"/><circle cx="568" cy="721.4" r="1.85" fill="#d90a10"/><circle cx="559.4" cy="726.4" r="1.85" fill="#d90a10"/><circle cx="524.7" cy="701.3" r="1.85" fill="#d90a10"/><circle cx="541.6" cy="700.8" r="1.85" fill="#d90a10"/><circle cx="559.2" cy="706.5" r="1.85" fill="#d90a10"/>
</svg>
</body></html>
